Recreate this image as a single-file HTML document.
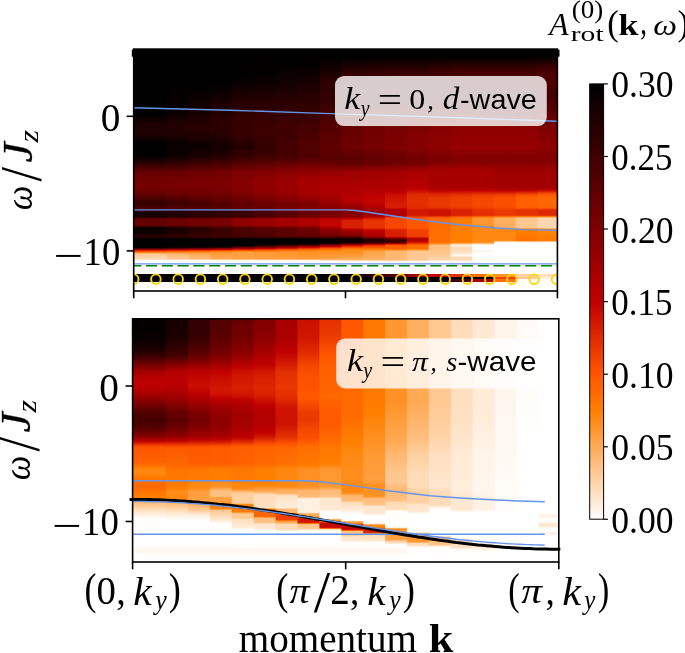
<!DOCTYPE html>
<html><head><meta charset="utf-8"><title>figure</title>
<style>html,body{margin:0;padding:0;background:#fff;}body{width:685px;height:653px;overflow:hidden;position:relative;}</style>
</head><body>
<svg width="685" height="653" viewBox="0 0 685 653" style="position:absolute;left:0;top:0">
<defs>
<clipPath id="ct"><rect x="133.7" y="49.1" width="423.7" height="241.9"/></clipPath>
<clipPath id="cb"><rect x="132.6" y="318.8" width="426.2" height="243.2"/></clipPath>
<linearGradient id="cbar" x1="0" y1="0" x2="0" y2="1"><stop offset="0.0000" stop-color="#000000"/><stop offset="0.0167" stop-color="#060000"/><stop offset="0.0333" stop-color="#0d0000"/><stop offset="0.0500" stop-color="#130000"/><stop offset="0.0667" stop-color="#1a0000"/><stop offset="0.0833" stop-color="#200000"/><stop offset="0.1000" stop-color="#260000"/><stop offset="0.1167" stop-color="#2d0000"/><stop offset="0.1333" stop-color="#330000"/><stop offset="0.1500" stop-color="#390000"/><stop offset="0.1667" stop-color="#400000"/><stop offset="0.1833" stop-color="#460000"/><stop offset="0.2000" stop-color="#4c0000"/><stop offset="0.2167" stop-color="#530000"/><stop offset="0.2333" stop-color="#590000"/><stop offset="0.2500" stop-color="#600000"/><stop offset="0.2667" stop-color="#660000"/><stop offset="0.2833" stop-color="#6c0000"/><stop offset="0.3000" stop-color="#730000"/><stop offset="0.3167" stop-color="#790000"/><stop offset="0.3333" stop-color="#7f0000"/><stop offset="0.3500" stop-color="#860000"/><stop offset="0.3667" stop-color="#8c0000"/><stop offset="0.3833" stop-color="#930000"/><stop offset="0.4000" stop-color="#990000"/><stop offset="0.4167" stop-color="#9f0000"/><stop offset="0.4333" stop-color="#a60000"/><stop offset="0.4500" stop-color="#ac0000"/><stop offset="0.4667" stop-color="#b20000"/><stop offset="0.4833" stop-color="#b90000"/><stop offset="0.5000" stop-color="#bf0000"/><stop offset="0.5167" stop-color="#c60800"/><stop offset="0.5333" stop-color="#cc1100"/><stop offset="0.5500" stop-color="#d21a00"/><stop offset="0.5667" stop-color="#d92200"/><stop offset="0.5833" stop-color="#df2b00"/><stop offset="0.6000" stop-color="#e53300"/><stop offset="0.6167" stop-color="#ec3c00"/><stop offset="0.6333" stop-color="#f24400"/><stop offset="0.6500" stop-color="#f94d00"/><stop offset="0.6667" stop-color="#ff5500"/><stop offset="0.6833" stop-color="#ff5e00"/><stop offset="0.7000" stop-color="#ff6600"/><stop offset="0.7167" stop-color="#ff6e00"/><stop offset="0.7333" stop-color="#ff7700"/><stop offset="0.7500" stop-color="#ff8000"/><stop offset="0.7667" stop-color="#ff8811"/><stop offset="0.7833" stop-color="#ff9022"/><stop offset="0.8000" stop-color="#ff9933"/><stop offset="0.8167" stop-color="#ffa244"/><stop offset="0.8333" stop-color="#ffaa55"/><stop offset="0.8500" stop-color="#ffb266"/><stop offset="0.8667" stop-color="#ffbb77"/><stop offset="0.8833" stop-color="#ffc388"/><stop offset="0.9000" stop-color="#ffcc99"/><stop offset="0.9167" stop-color="#ffd4aa"/><stop offset="0.9333" stop-color="#ffddbb"/><stop offset="0.9500" stop-color="#ffe5cc"/><stop offset="0.9667" stop-color="#ffeedd"/><stop offset="0.9833" stop-color="#fff6ee"/><stop offset="1.0000" stop-color="#ffffff"/></linearGradient>
<linearGradient id="t0" gradientUnits="userSpaceOnUse" x1="0" y1="49.10" x2="0" y2="291.00"><stop offset="0.0000" stop-color="#000000"/><stop offset="0.2613" stop-color="#000000"/><stop offset="0.2766" stop-color="#040000"/><stop offset="0.3055" stop-color="#1c0000"/><stop offset="0.3307" stop-color="#200000"/><stop offset="0.3539" stop-color="#1d0000"/><stop offset="0.3799" stop-color="#060000"/><stop offset="0.3902" stop-color="#010000"/><stop offset="0.4349" stop-color="#010000"/><stop offset="0.4461" stop-color="#070000"/><stop offset="0.4564" stop-color="#130000"/><stop offset="0.4928" stop-color="#4e0000"/><stop offset="0.5081" stop-color="#620000"/><stop offset="0.5242" stop-color="#6c0000"/><stop offset="0.5618" stop-color="#750000"/><stop offset="0.5837" stop-color="#6f0000"/><stop offset="0.5990" stop-color="#650000"/><stop offset="0.6350" stop-color="#330000"/><stop offset="0.6383" stop-color="#330000"/><stop offset="0.6527" stop-color="#470000"/><stop offset="0.6647" stop-color="#470000"/><stop offset="0.6672" stop-color="#400000"/><stop offset="0.6718" stop-color="#200000"/><stop offset="0.6763" stop-color="#180000"/><stop offset="0.6928" stop-color="#1a0000"/><stop offset="0.6953" stop-color="#260000"/><stop offset="0.6995" stop-color="#530000"/><stop offset="0.7011" stop-color="#5d0000"/><stop offset="0.7061" stop-color="#640000"/><stop offset="0.7177" stop-color="#680000"/><stop offset="0.7292" stop-color="#5f0000"/><stop offset="0.7313" stop-color="#530000"/><stop offset="0.7363" stop-color="#1a0000"/><stop offset="0.7391" stop-color="#0d0000"/><stop offset="0.7590" stop-color="#0c0000"/><stop offset="0.7623" stop-color="#120000"/><stop offset="0.7673" stop-color="#260000"/><stop offset="0.7755" stop-color="#280000"/><stop offset="0.7788" stop-color="#210000"/><stop offset="0.7821" stop-color="#0b0000"/><stop offset="0.7854" stop-color="#010000"/><stop offset="0.8169" stop-color="#000000"/><stop offset="0.8202" stop-color="#070000"/><stop offset="0.8218" stop-color="#160000"/><stop offset="0.8235" stop-color="#330000"/><stop offset="0.8272" stop-color="#860000"/><stop offset="0.8301" stop-color="#b80000"/><stop offset="0.8330" stop-color="#de2800"/><stop offset="0.8351" stop-color="#f14300"/><stop offset="0.8367" stop-color="#fe5400"/><stop offset="0.8384" stop-color="#ff6600"/><stop offset="0.8400" stop-color="#ff7a00"/><stop offset="0.8417" stop-color="#ff9021"/><stop offset="0.8433" stop-color="#ffa64e"/><stop offset="0.8454" stop-color="#ffbc7a"/><stop offset="0.8466" stop-color="#ffc489"/><stop offset="0.8483" stop-color="#ffc993"/><stop offset="0.8665" stop-color="#ffd9b3"/><stop offset="0.8681" stop-color="#ffdebd"/><stop offset="0.8739" stop-color="#fffaf5"/><stop offset="0.8764" stop-color="#fffefe"/><stop offset="0.8814" stop-color="#ffffff"/><stop offset="0.9285" stop-color="#ffffff"/><stop offset="0.9293" stop-color="#000000"/><stop offset="0.9632" stop-color="#000000"/><stop offset="0.9640" stop-color="#ffffff"/><stop offset="0.9988" stop-color="#ffffff"/></linearGradient>
<linearGradient id="t1" gradientUnits="userSpaceOnUse" x1="0" y1="49.10" x2="0" y2="291.00"><stop offset="0.0000" stop-color="#000000"/><stop offset="0.2613" stop-color="#000000"/><stop offset="0.2766" stop-color="#040000"/><stop offset="0.3055" stop-color="#1c0000"/><stop offset="0.3307" stop-color="#200000"/><stop offset="0.3539" stop-color="#1d0000"/><stop offset="0.3799" stop-color="#060000"/><stop offset="0.3902" stop-color="#010000"/><stop offset="0.4349" stop-color="#010000"/><stop offset="0.4461" stop-color="#070000"/><stop offset="0.4564" stop-color="#130000"/><stop offset="0.4928" stop-color="#4e0000"/><stop offset="0.5081" stop-color="#620000"/><stop offset="0.5242" stop-color="#6c0000"/><stop offset="0.5618" stop-color="#750000"/><stop offset="0.5837" stop-color="#6f0000"/><stop offset="0.5990" stop-color="#650000"/><stop offset="0.6350" stop-color="#330000"/><stop offset="0.6383" stop-color="#330000"/><stop offset="0.6527" stop-color="#470000"/><stop offset="0.6647" stop-color="#470000"/><stop offset="0.6672" stop-color="#400000"/><stop offset="0.6718" stop-color="#200000"/><stop offset="0.6763" stop-color="#180000"/><stop offset="0.6928" stop-color="#1a0000"/><stop offset="0.6953" stop-color="#260000"/><stop offset="0.6995" stop-color="#530000"/><stop offset="0.7011" stop-color="#5d0000"/><stop offset="0.7061" stop-color="#640000"/><stop offset="0.7177" stop-color="#680000"/><stop offset="0.7292" stop-color="#5f0000"/><stop offset="0.7313" stop-color="#530000"/><stop offset="0.7363" stop-color="#1a0000"/><stop offset="0.7391" stop-color="#0d0000"/><stop offset="0.7590" stop-color="#0c0000"/><stop offset="0.7623" stop-color="#120000"/><stop offset="0.7673" stop-color="#260000"/><stop offset="0.7755" stop-color="#280000"/><stop offset="0.7788" stop-color="#210000"/><stop offset="0.7821" stop-color="#0b0000"/><stop offset="0.7854" stop-color="#010000"/><stop offset="0.8169" stop-color="#000000"/><stop offset="0.8202" stop-color="#070000"/><stop offset="0.8218" stop-color="#160000"/><stop offset="0.8235" stop-color="#330000"/><stop offset="0.8272" stop-color="#860000"/><stop offset="0.8301" stop-color="#b80000"/><stop offset="0.8330" stop-color="#de2800"/><stop offset="0.8351" stop-color="#f14300"/><stop offset="0.8367" stop-color="#fe5400"/><stop offset="0.8384" stop-color="#ff6600"/><stop offset="0.8400" stop-color="#ff7a00"/><stop offset="0.8417" stop-color="#ff9021"/><stop offset="0.8433" stop-color="#ffa64e"/><stop offset="0.8454" stop-color="#ffbc7a"/><stop offset="0.8466" stop-color="#ffc489"/><stop offset="0.8483" stop-color="#ffc993"/><stop offset="0.8665" stop-color="#ffd9b3"/><stop offset="0.8681" stop-color="#ffdebd"/><stop offset="0.8739" stop-color="#fffaf5"/><stop offset="0.8764" stop-color="#fffefe"/><stop offset="0.8814" stop-color="#ffffff"/><stop offset="0.9285" stop-color="#ffffff"/><stop offset="0.9293" stop-color="#000000"/><stop offset="0.9632" stop-color="#000000"/><stop offset="0.9640" stop-color="#ffffff"/><stop offset="0.9988" stop-color="#ffffff"/></linearGradient>
<linearGradient id="t2" gradientUnits="userSpaceOnUse" x1="0" y1="49.10" x2="0" y2="291.00"><stop offset="0.0000" stop-color="#000000"/><stop offset="0.1439" stop-color="#000000"/><stop offset="0.2613" stop-color="#0c0000"/><stop offset="0.2766" stop-color="#100000"/><stop offset="0.3055" stop-color="#210000"/><stop offset="0.3258" stop-color="#240000"/><stop offset="0.3539" stop-color="#210000"/><stop offset="0.3902" stop-color="#080000"/><stop offset="0.4299" stop-color="#0a0000"/><stop offset="0.4514" stop-color="#170000"/><stop offset="0.5081" stop-color="#670000"/><stop offset="0.5275" stop-color="#710000"/><stop offset="0.5618" stop-color="#780000"/><stop offset="0.5837" stop-color="#730000"/><stop offset="0.5990" stop-color="#690000"/><stop offset="0.6350" stop-color="#3e0000"/><stop offset="0.6527" stop-color="#4c0000"/><stop offset="0.6598" stop-color="#4b0000"/><stop offset="0.6664" stop-color="#410000"/><stop offset="0.6718" stop-color="#260000"/><stop offset="0.6763" stop-color="#200000"/><stop offset="0.6928" stop-color="#220000"/><stop offset="0.6953" stop-color="#2d0000"/><stop offset="0.7003" stop-color="#5f0000"/><stop offset="0.7028" stop-color="#680000"/><stop offset="0.7148" stop-color="#6e0000"/><stop offset="0.7259" stop-color="#6a0000"/><stop offset="0.7292" stop-color="#670000"/><stop offset="0.7309" stop-color="#5f0000"/><stop offset="0.7363" stop-color="#290000"/><stop offset="0.7391" stop-color="#1c0000"/><stop offset="0.7582" stop-color="#1b0000"/><stop offset="0.7673" stop-color="#2f0000"/><stop offset="0.7755" stop-color="#300000"/><stop offset="0.7788" stop-color="#270000"/><stop offset="0.7830" stop-color="#090000"/><stop offset="0.7854" stop-color="#010000"/><stop offset="0.8152" stop-color="#010000"/><stop offset="0.8185" stop-color="#080000"/><stop offset="0.8202" stop-color="#150000"/><stop offset="0.8218" stop-color="#290000"/><stop offset="0.8272" stop-color="#940000"/><stop offset="0.8301" stop-color="#c30400"/><stop offset="0.8330" stop-color="#e63400"/><stop offset="0.8351" stop-color="#fa4f00"/><stop offset="0.8367" stop-color="#ff6100"/><stop offset="0.8396" stop-color="#ff7e00"/><stop offset="0.8433" stop-color="#ffa246"/><stop offset="0.8454" stop-color="#ffb164"/><stop offset="0.8466" stop-color="#ffb76e"/><stop offset="0.8499" stop-color="#ffbc79"/><stop offset="0.8632" stop-color="#ffc58b"/><stop offset="0.8665" stop-color="#ffca95"/><stop offset="0.8681" stop-color="#ffd1a3"/><stop offset="0.8739" stop-color="#fff8f1"/><stop offset="0.8764" stop-color="#fffefd"/><stop offset="0.8814" stop-color="#ffffff"/><stop offset="0.9285" stop-color="#ffffff"/><stop offset="0.9293" stop-color="#000000"/><stop offset="0.9632" stop-color="#000000"/><stop offset="0.9640" stop-color="#ffffff"/><stop offset="0.9988" stop-color="#ffffff"/></linearGradient>
<linearGradient id="t3" gradientUnits="userSpaceOnUse" x1="0" y1="49.10" x2="0" y2="291.00"><stop offset="0.0000" stop-color="#000000"/><stop offset="0.1484" stop-color="#010000"/><stop offset="0.2712" stop-color="#1a0000"/><stop offset="0.3208" stop-color="#280000"/><stop offset="0.3539" stop-color="#250000"/><stop offset="0.3952" stop-color="#0e0000"/><stop offset="0.4167" stop-color="#0f0000"/><stop offset="0.4465" stop-color="#1d0000"/><stop offset="0.5081" stop-color="#6b0000"/><stop offset="0.5275" stop-color="#750000"/><stop offset="0.5618" stop-color="#7b0000"/><stop offset="0.5990" stop-color="#6e0000"/><stop offset="0.6362" stop-color="#490000"/><stop offset="0.6569" stop-color="#510000"/><stop offset="0.6647" stop-color="#440000"/><stop offset="0.6718" stop-color="#2c0000"/><stop offset="0.6763" stop-color="#280000"/><stop offset="0.6928" stop-color="#2a0000"/><stop offset="0.6953" stop-color="#340000"/><stop offset="0.7003" stop-color="#660000"/><stop offset="0.7028" stop-color="#6f0000"/><stop offset="0.7148" stop-color="#730000"/><stop offset="0.7276" stop-color="#700000"/><stop offset="0.7313" stop-color="#660000"/><stop offset="0.7363" stop-color="#390000"/><stop offset="0.7391" stop-color="#2b0000"/><stop offset="0.7573" stop-color="#2a0000"/><stop offset="0.7673" stop-color="#370000"/><stop offset="0.7755" stop-color="#370000"/><stop offset="0.7788" stop-color="#2e0000"/><stop offset="0.7830" stop-color="#0a0000"/><stop offset="0.7854" stop-color="#010000"/><stop offset="0.8136" stop-color="#000000"/><stop offset="0.8169" stop-color="#050000"/><stop offset="0.8181" stop-color="#0c0000"/><stop offset="0.8202" stop-color="#230000"/><stop offset="0.8284" stop-color="#b60000"/><stop offset="0.8301" stop-color="#cd1200"/><stop offset="0.8330" stop-color="#ef4000"/><stop offset="0.8351" stop-color="#ff5b00"/><stop offset="0.8384" stop-color="#ff7e00"/><stop offset="0.8417" stop-color="#ff962d"/><stop offset="0.8454" stop-color="#ffa74e"/><stop offset="0.8483" stop-color="#ffac59"/><stop offset="0.8632" stop-color="#ffb56c"/><stop offset="0.8665" stop-color="#ffbb77"/><stop offset="0.8681" stop-color="#ffc488"/><stop offset="0.8731" stop-color="#fff0e1"/><stop offset="0.8747" stop-color="#fffaf4"/><stop offset="0.8764" stop-color="#fffefc"/><stop offset="0.8814" stop-color="#ffffff"/><stop offset="0.9285" stop-color="#ffffff"/><stop offset="0.9293" stop-color="#000000"/><stop offset="0.9632" stop-color="#000000"/><stop offset="0.9640" stop-color="#ffffff"/><stop offset="0.9988" stop-color="#ffffff"/></linearGradient>
<linearGradient id="t4" gradientUnits="userSpaceOnUse" x1="0" y1="49.10" x2="0" y2="291.00"><stop offset="0.0000" stop-color="#000000"/><stop offset="0.1439" stop-color="#010000"/><stop offset="0.2282" stop-color="#1d0000"/><stop offset="0.3109" stop-color="#2c0000"/><stop offset="0.3510" stop-color="#2a0000"/><stop offset="0.3902" stop-color="#170000"/><stop offset="0.4101" stop-color="#150000"/><stop offset="0.4316" stop-color="#1d0000"/><stop offset="0.4465" stop-color="#280000"/><stop offset="0.5081" stop-color="#700000"/><stop offset="0.5275" stop-color="#780000"/><stop offset="0.5618" stop-color="#7e0000"/><stop offset="0.5990" stop-color="#720000"/><stop offset="0.6362" stop-color="#550000"/><stop offset="0.6565" stop-color="#560000"/><stop offset="0.6697" stop-color="#350000"/><stop offset="0.6763" stop-color="#300000"/><stop offset="0.6928" stop-color="#320000"/><stop offset="0.6953" stop-color="#3c0000"/><stop offset="0.7003" stop-color="#6c0000"/><stop offset="0.7028" stop-color="#760000"/><stop offset="0.7276" stop-color="#780000"/><stop offset="0.7313" stop-color="#700000"/><stop offset="0.7375" stop-color="#400000"/><stop offset="0.7391" stop-color="#3b0000"/><stop offset="0.7557" stop-color="#380000"/><stop offset="0.7640" stop-color="#400000"/><stop offset="0.7755" stop-color="#3f0000"/><stop offset="0.7788" stop-color="#340000"/><stop offset="0.7830" stop-color="#0c0000"/><stop offset="0.7854" stop-color="#020000"/><stop offset="0.8136" stop-color="#000000"/><stop offset="0.8169" stop-color="#070000"/><stop offset="0.8181" stop-color="#120000"/><stop offset="0.8202" stop-color="#300000"/><stop offset="0.8247" stop-color="#890000"/><stop offset="0.8284" stop-color="#c20300"/><stop offset="0.8334" stop-color="#fd5200"/><stop offset="0.8351" stop-color="#ff6700"/><stop offset="0.8367" stop-color="#ff7b00"/><stop offset="0.8388" stop-color="#ff8e1d"/><stop offset="0.8400" stop-color="#ff942a"/><stop offset="0.8417" stop-color="#ff9932"/><stop offset="0.8648" stop-color="#ffa750"/><stop offset="0.8665" stop-color="#ffac59"/><stop offset="0.8677" stop-color="#ffb367"/><stop offset="0.8698" stop-color="#ffc78f"/><stop offset="0.8731" stop-color="#ffeddb"/><stop offset="0.8747" stop-color="#fff8f2"/><stop offset="0.8764" stop-color="#fffdfc"/><stop offset="0.8814" stop-color="#ffffff"/><stop offset="0.9285" stop-color="#ffffff"/><stop offset="0.9293" stop-color="#000000"/><stop offset="0.9632" stop-color="#000000"/><stop offset="0.9640" stop-color="#ffffff"/><stop offset="0.9988" stop-color="#ffffff"/></linearGradient>
<linearGradient id="t5" gradientUnits="userSpaceOnUse" x1="0" y1="49.10" x2="0" y2="291.00"><stop offset="0.0000" stop-color="#000000"/><stop offset="0.1195" stop-color="#020000"/><stop offset="0.2228" stop-color="#270000"/><stop offset="0.3055" stop-color="#370000"/><stop offset="0.3510" stop-color="#360000"/><stop offset="0.3985" stop-color="#250000"/><stop offset="0.4150" stop-color="#250000"/><stop offset="0.4465" stop-color="#370000"/><stop offset="0.5081" stop-color="#7c0000"/><stop offset="0.5523" stop-color="#860000"/><stop offset="0.5936" stop-color="#800000"/><stop offset="0.6362" stop-color="#610000"/><stop offset="0.6548" stop-color="#600000"/><stop offset="0.6581" stop-color="#5c0000"/><stop offset="0.6714" stop-color="#3a0000"/><stop offset="0.6912" stop-color="#380000"/><stop offset="0.6928" stop-color="#3a0000"/><stop offset="0.6953" stop-color="#460000"/><stop offset="0.6995" stop-color="#790000"/><stop offset="0.7011" stop-color="#880000"/><stop offset="0.7028" stop-color="#8e0000"/><stop offset="0.7077" stop-color="#900000"/><stop offset="0.7292" stop-color="#8e0000"/><stop offset="0.7325" stop-color="#7e0000"/><stop offset="0.7375" stop-color="#510000"/><stop offset="0.7408" stop-color="#490000"/><stop offset="0.7755" stop-color="#460000"/><stop offset="0.7780" stop-color="#3a0000"/><stop offset="0.7821" stop-color="#0e0000"/><stop offset="0.7854" stop-color="#010000"/><stop offset="0.8103" stop-color="#010000"/><stop offset="0.8119" stop-color="#030000"/><stop offset="0.8136" stop-color="#0b0000"/><stop offset="0.8152" stop-color="#1c0000"/><stop offset="0.8222" stop-color="#8b0000"/><stop offset="0.8251" stop-color="#b10000"/><stop offset="0.8268" stop-color="#c40700"/><stop offset="0.8317" stop-color="#f94d00"/><stop offset="0.8334" stop-color="#ff6100"/><stop offset="0.8351" stop-color="#ff7400"/><stop offset="0.8367" stop-color="#ff860d"/><stop offset="0.8388" stop-color="#ff972e"/><stop offset="0.8400" stop-color="#ff9c39"/><stop offset="0.8433" stop-color="#ffa041"/><stop offset="0.8632" stop-color="#ffa041"/><stop offset="0.8648" stop-color="#ffa143"/><stop offset="0.8665" stop-color="#ffa54c"/><stop offset="0.8681" stop-color="#ffb061"/><stop offset="0.8698" stop-color="#ffc285"/><stop offset="0.8731" stop-color="#ffebd7"/><stop offset="0.8747" stop-color="#fff8f0"/><stop offset="0.8764" stop-color="#fffdfb"/><stop offset="0.8814" stop-color="#ffffff"/><stop offset="0.9285" stop-color="#ffffff"/><stop offset="0.9293" stop-color="#000000"/><stop offset="0.9632" stop-color="#000000"/><stop offset="0.9640" stop-color="#ffffff"/><stop offset="0.9988" stop-color="#ffffff"/></linearGradient>
<linearGradient id="t6" gradientUnits="userSpaceOnUse" x1="0" y1="49.10" x2="0" y2="291.00"><stop offset="0.0000" stop-color="#000000"/><stop offset="0.1141" stop-color="#060000"/><stop offset="0.2228" stop-color="#290000"/><stop offset="0.3055" stop-color="#3a0000"/><stop offset="0.3510" stop-color="#3c0000"/><stop offset="0.4035" stop-color="#330000"/><stop offset="0.4200" stop-color="#340000"/><stop offset="0.4498" stop-color="#430000"/><stop offset="0.5081" stop-color="#820000"/><stop offset="0.5506" stop-color="#910000"/><stop offset="0.5771" stop-color="#900000"/><stop offset="0.5990" stop-color="#8a0000"/><stop offset="0.6362" stop-color="#6b0000"/><stop offset="0.6565" stop-color="#690000"/><stop offset="0.6730" stop-color="#4a0000"/><stop offset="0.6895" stop-color="#480000"/><stop offset="0.6941" stop-color="#4f0000"/><stop offset="0.6953" stop-color="#580000"/><stop offset="0.6995" stop-color="#860000"/><stop offset="0.7011" stop-color="#930000"/><stop offset="0.7028" stop-color="#990000"/><stop offset="0.7077" stop-color="#9b0000"/><stop offset="0.7292" stop-color="#990000"/><stop offset="0.7325" stop-color="#890000"/><stop offset="0.7375" stop-color="#5e0000"/><stop offset="0.7408" stop-color="#550000"/><stop offset="0.7755" stop-color="#4e0000"/><stop offset="0.7780" stop-color="#410000"/><stop offset="0.7821" stop-color="#0f0000"/><stop offset="0.7838" stop-color="#050000"/><stop offset="0.7871" stop-color="#000000"/><stop offset="0.8020" stop-color="#000000"/><stop offset="0.8069" stop-color="#080000"/><stop offset="0.8103" stop-color="#180000"/><stop offset="0.8136" stop-color="#300000"/><stop offset="0.8160" stop-color="#4e0000"/><stop offset="0.8218" stop-color="#a00000"/><stop offset="0.8243" stop-color="#be0000"/><stop offset="0.8305" stop-color="#fa4e00"/><stop offset="0.8317" stop-color="#ff5c00"/><stop offset="0.8351" stop-color="#ff7c00"/><stop offset="0.8384" stop-color="#ff9326"/><stop offset="0.8400" stop-color="#ff9832"/><stop offset="0.8433" stop-color="#ff9b38"/><stop offset="0.8648" stop-color="#ff9e3e"/><stop offset="0.8665" stop-color="#ffa346"/><stop offset="0.8677" stop-color="#ffaa55"/><stop offset="0.8698" stop-color="#ffc081"/><stop offset="0.8731" stop-color="#ffebd6"/><stop offset="0.8747" stop-color="#fff8f0"/><stop offset="0.8764" stop-color="#fffdfb"/><stop offset="0.8814" stop-color="#ffffff"/><stop offset="0.9285" stop-color="#ffffff"/><stop offset="0.9293" stop-color="#000000"/><stop offset="0.9632" stop-color="#000000"/><stop offset="0.9640" stop-color="#ffffff"/><stop offset="0.9988" stop-color="#ffffff"/></linearGradient>
<linearGradient id="t7" gradientUnits="userSpaceOnUse" x1="0" y1="49.10" x2="0" y2="291.00"><stop offset="0.0000" stop-color="#000000"/><stop offset="0.0529" stop-color="#000000"/><stop offset="0.0943" stop-color="#070000"/><stop offset="0.2228" stop-color="#2b0000"/><stop offset="0.3055" stop-color="#3d0000"/><stop offset="0.4365" stop-color="#450000"/><stop offset="0.4543" stop-color="#4e0000"/><stop offset="0.4874" stop-color="#760000"/><stop offset="0.5081" stop-color="#890000"/><stop offset="0.5308" stop-color="#960000"/><stop offset="0.5506" stop-color="#9c0000"/><stop offset="0.5990" stop-color="#970000"/><stop offset="0.6362" stop-color="#760000"/><stop offset="0.6569" stop-color="#740000"/><stop offset="0.6747" stop-color="#5a0000"/><stop offset="0.6895" stop-color="#580000"/><stop offset="0.6941" stop-color="#600000"/><stop offset="0.6962" stop-color="#710000"/><stop offset="0.6995" stop-color="#940000"/><stop offset="0.7011" stop-color="#9f0000"/><stop offset="0.7028" stop-color="#a40000"/><stop offset="0.7077" stop-color="#a50000"/><stop offset="0.7292" stop-color="#a40000"/><stop offset="0.7325" stop-color="#940000"/><stop offset="0.7375" stop-color="#6b0000"/><stop offset="0.7408" stop-color="#620000"/><stop offset="0.7755" stop-color="#560000"/><stop offset="0.7780" stop-color="#470000"/><stop offset="0.7821" stop-color="#110000"/><stop offset="0.7838" stop-color="#050000"/><stop offset="0.7871" stop-color="#000000"/><stop offset="0.8020" stop-color="#000000"/><stop offset="0.8057" stop-color="#080000"/><stop offset="0.8086" stop-color="#1f0000"/><stop offset="0.8136" stop-color="#540000"/><stop offset="0.8218" stop-color="#bc0000"/><stop offset="0.8222" stop-color="#c00100"/><stop offset="0.8268" stop-color="#ea3900"/><stop offset="0.8301" stop-color="#ff5b00"/><stop offset="0.8346" stop-color="#ff8103"/><stop offset="0.8367" stop-color="#ff8c1a"/><stop offset="0.8388" stop-color="#ff9327"/><stop offset="0.8417" stop-color="#ff962d"/><stop offset="0.8648" stop-color="#ff9b38"/><stop offset="0.8665" stop-color="#ffa041"/><stop offset="0.8677" stop-color="#ffa850"/><stop offset="0.8698" stop-color="#ffbe7e"/><stop offset="0.8731" stop-color="#ffead5"/><stop offset="0.8747" stop-color="#fff7f0"/><stop offset="0.8764" stop-color="#fffdfb"/><stop offset="0.8814" stop-color="#ffffff"/><stop offset="0.9285" stop-color="#ffffff"/><stop offset="0.9293" stop-color="#000000"/><stop offset="0.9632" stop-color="#000000"/><stop offset="0.9640" stop-color="#ffffff"/><stop offset="0.9988" stop-color="#ffffff"/></linearGradient>
<linearGradient id="t8" gradientUnits="userSpaceOnUse" x1="0" y1="49.10" x2="0" y2="291.00"><stop offset="0.0000" stop-color="#000000"/><stop offset="0.0612" stop-color="#020000"/><stop offset="0.1687" stop-color="#210000"/><stop offset="0.3010" stop-color="#3f0000"/><stop offset="0.3902" stop-color="#4f0000"/><stop offset="0.4448" stop-color="#510000"/><stop offset="0.4597" stop-color="#5b0000"/><stop offset="0.4874" stop-color="#7d0000"/><stop offset="0.5027" stop-color="#8b0000"/><stop offset="0.5308" stop-color="#a00000"/><stop offset="0.5506" stop-color="#a70000"/><stop offset="0.5990" stop-color="#a40000"/><stop offset="0.6362" stop-color="#810000"/><stop offset="0.6565" stop-color="#7f0000"/><stop offset="0.6776" stop-color="#690000"/><stop offset="0.6895" stop-color="#680000"/><stop offset="0.6941" stop-color="#710000"/><stop offset="0.6995" stop-color="#a10000"/><stop offset="0.7011" stop-color="#ab0000"/><stop offset="0.7077" stop-color="#b00000"/><stop offset="0.7292" stop-color="#ae0000"/><stop offset="0.7325" stop-color="#a00000"/><stop offset="0.7375" stop-color="#780000"/><stop offset="0.7408" stop-color="#6f0000"/><stop offset="0.7755" stop-color="#5e0000"/><stop offset="0.7780" stop-color="#4e0000"/><stop offset="0.7821" stop-color="#120000"/><stop offset="0.7838" stop-color="#060000"/><stop offset="0.7871" stop-color="#000000"/><stop offset="0.8020" stop-color="#000000"/><stop offset="0.8053" stop-color="#0a0000"/><stop offset="0.8069" stop-color="#190000"/><stop offset="0.8152" stop-color="#900000"/><stop offset="0.8185" stop-color="#b70000"/><stop offset="0.8202" stop-color="#c70b00"/><stop offset="0.8251" stop-color="#f24400"/><stop offset="0.8268" stop-color="#fd5300"/><stop offset="0.8284" stop-color="#ff6000"/><stop offset="0.8317" stop-color="#ff7900"/><stop offset="0.8334" stop-color="#ff8409"/><stop offset="0.8346" stop-color="#ff8a15"/><stop offset="0.8367" stop-color="#ff8f20"/><stop offset="0.8648" stop-color="#ff9932"/><stop offset="0.8665" stop-color="#ff9d3c"/><stop offset="0.8677" stop-color="#ffa54b"/><stop offset="0.8698" stop-color="#ffbd7a"/><stop offset="0.8731" stop-color="#ffe9d4"/><stop offset="0.8747" stop-color="#fff7ef"/><stop offset="0.8764" stop-color="#fffdfb"/><stop offset="0.8814" stop-color="#ffffff"/><stop offset="0.9285" stop-color="#ffffff"/><stop offset="0.9293" stop-color="#000000"/><stop offset="0.9632" stop-color="#000000"/><stop offset="0.9640" stop-color="#ffffff"/><stop offset="0.9988" stop-color="#ffffff"/></linearGradient>
<linearGradient id="t9" gradientUnits="userSpaceOnUse" x1="0" y1="49.10" x2="0" y2="291.00"><stop offset="0.0000" stop-color="#000000"/><stop offset="0.0480" stop-color="#050000"/><stop offset="0.1339" stop-color="#2c0000"/><stop offset="0.2104" stop-color="#340000"/><stop offset="0.3220" stop-color="#550000"/><stop offset="0.4018" stop-color="#5f0000"/><stop offset="0.4543" stop-color="#570000"/><stop offset="0.4709" stop-color="#640000"/><stop offset="0.5081" stop-color="#940000"/><stop offset="0.5275" stop-color="#a10000"/><stop offset="0.5506" stop-color="#a80000"/><stop offset="0.5936" stop-color="#ac0000"/><stop offset="0.6168" stop-color="#a50000"/><stop offset="0.6796" stop-color="#750000"/><stop offset="0.6928" stop-color="#7e0000"/><stop offset="0.6962" stop-color="#8f0000"/><stop offset="0.7003" stop-color="#ad0000"/><stop offset="0.7028" stop-color="#b80000"/><stop offset="0.7065" stop-color="#c10300"/><stop offset="0.7127" stop-color="#c40600"/><stop offset="0.7292" stop-color="#c30500"/><stop offset="0.7313" stop-color="#bf0000"/><stop offset="0.7375" stop-color="#a70000"/><stop offset="0.7478" stop-color="#8c0000"/><stop offset="0.7706" stop-color="#720000"/><stop offset="0.7755" stop-color="#5f0000"/><stop offset="0.7780" stop-color="#4a0000"/><stop offset="0.7821" stop-color="#180000"/><stop offset="0.7838" stop-color="#0d0000"/><stop offset="0.7871" stop-color="#080000"/><stop offset="0.7970" stop-color="#080000"/><stop offset="0.8003" stop-color="#0c0000"/><stop offset="0.8036" stop-color="#210000"/><stop offset="0.8057" stop-color="#3a0000"/><stop offset="0.8098" stop-color="#7a0000"/><stop offset="0.8119" stop-color="#950000"/><stop offset="0.8160" stop-color="#bf0000"/><stop offset="0.8218" stop-color="#ef4000"/><stop offset="0.8243" stop-color="#ff5800"/><stop offset="0.8264" stop-color="#ff6800"/><stop offset="0.8301" stop-color="#ff7b00"/><stop offset="0.8317" stop-color="#ff8205"/><stop offset="0.8351" stop-color="#ff8c1a"/><stop offset="0.8384" stop-color="#ff9021"/><stop offset="0.8615" stop-color="#ff9d3c"/><stop offset="0.8665" stop-color="#ffa448"/><stop offset="0.8677" stop-color="#ffa852"/><stop offset="0.8698" stop-color="#ffb76e"/><stop offset="0.8739" stop-color="#ffe4ca"/><stop offset="0.8760" stop-color="#fff6ed"/><stop offset="0.8780" stop-color="#fffdfc"/><stop offset="0.8814" stop-color="#ffffff"/><stop offset="0.9285" stop-color="#ffffff"/><stop offset="0.9293" stop-color="#000000"/><stop offset="0.9632" stop-color="#000000"/><stop offset="0.9640" stop-color="#ffffff"/><stop offset="0.9988" stop-color="#ffffff"/></linearGradient>
<linearGradient id="t10" gradientUnits="userSpaceOnUse" x1="0" y1="49.10" x2="0" y2="291.00"><stop offset="0.0000" stop-color="#000000"/><stop offset="0.0265" stop-color="#010000"/><stop offset="0.0430" stop-color="#070000"/><stop offset="0.1025" stop-color="#330000"/><stop offset="0.1273" stop-color="#3e0000"/><stop offset="0.1505" stop-color="#420000"/><stop offset="0.2104" stop-color="#3e0000"/><stop offset="0.3220" stop-color="#670000"/><stop offset="0.4068" stop-color="#6e0000"/><stop offset="0.4448" stop-color="#5b0000"/><stop offset="0.4613" stop-color="#5a0000"/><stop offset="0.4762" stop-color="#660000"/><stop offset="0.5027" stop-color="#920000"/><stop offset="0.5176" stop-color="#a00000"/><stop offset="0.6217" stop-color="#b70000"/><stop offset="0.6284" stop-color="#b60000"/><stop offset="0.6499" stop-color="#970000"/><stop offset="0.6780" stop-color="#820000"/><stop offset="0.6928" stop-color="#900000"/><stop offset="0.6962" stop-color="#9d0000"/><stop offset="0.7011" stop-color="#b80000"/><stop offset="0.7028" stop-color="#c20300"/><stop offset="0.7061" stop-color="#d11800"/><stop offset="0.7094" stop-color="#d71f00"/><stop offset="0.7127" stop-color="#d72000"/><stop offset="0.7358" stop-color="#d72000"/><stop offset="0.7396" stop-color="#d31a00"/><stop offset="0.7441" stop-color="#bd0000"/><stop offset="0.7478" stop-color="#ab0000"/><stop offset="0.7507" stop-color="#a40000"/><stop offset="0.7706" stop-color="#820000"/><stop offset="0.7739" stop-color="#6f0000"/><stop offset="0.7805" stop-color="#2c0000"/><stop offset="0.7838" stop-color="#150000"/><stop offset="0.7871" stop-color="#100000"/><stop offset="0.7970" stop-color="#100000"/><stop offset="0.8003" stop-color="#170000"/><stop offset="0.8016" stop-color="#210000"/><stop offset="0.8036" stop-color="#3f0000"/><stop offset="0.8086" stop-color="#a00000"/><stop offset="0.8103" stop-color="#b80000"/><stop offset="0.8136" stop-color="#d51d00"/><stop offset="0.8202" stop-color="#fd5200"/><stop offset="0.8218" stop-color="#ff6000"/><stop offset="0.8251" stop-color="#ff7a00"/><stop offset="0.8284" stop-color="#ff8811"/><stop offset="0.8512" stop-color="#ff9832"/><stop offset="0.8681" stop-color="#ffac59"/><stop offset="0.8698" stop-color="#ffb062"/><stop offset="0.8718" stop-color="#ffbe7d"/><stop offset="0.8747" stop-color="#ffe2c5"/><stop offset="0.8764" stop-color="#fff3e7"/><stop offset="0.8780" stop-color="#fffcf9"/><stop offset="0.8814" stop-color="#ffffff"/><stop offset="0.9285" stop-color="#ffffff"/><stop offset="0.9293" stop-color="#000000"/><stop offset="0.9632" stop-color="#000000"/><stop offset="0.9640" stop-color="#ffffff"/><stop offset="0.9988" stop-color="#ffffff"/></linearGradient>
<linearGradient id="t11" gradientUnits="userSpaceOnUse" x1="0" y1="49.10" x2="0" y2="291.00"><stop offset="0.0000" stop-color="#000000"/><stop offset="0.0380" stop-color="#050000"/><stop offset="0.0976" stop-color="#340000"/><stop offset="0.1174" stop-color="#3e0000"/><stop offset="0.1443" stop-color="#430000"/><stop offset="0.2150" stop-color="#3f0000"/><stop offset="0.3274" stop-color="#700000"/><stop offset="0.4068" stop-color="#760000"/><stop offset="0.4448" stop-color="#630000"/><stop offset="0.4613" stop-color="#620000"/><stop offset="0.4762" stop-color="#6d0000"/><stop offset="0.5027" stop-color="#970000"/><stop offset="0.5143" stop-color="#a20000"/><stop offset="0.5721" stop-color="#ae0000"/><stop offset="0.6069" stop-color="#bf0000"/><stop offset="0.6168" stop-color="#c20400"/><stop offset="0.6284" stop-color="#c40600"/><stop offset="0.6366" stop-color="#bf0000"/><stop offset="0.6532" stop-color="#b50000"/><stop offset="0.6664" stop-color="#9d0000"/><stop offset="0.6796" stop-color="#990000"/><stop offset="0.6879" stop-color="#a00000"/><stop offset="0.6945" stop-color="#bb0000"/><stop offset="0.6995" stop-color="#d11800"/><stop offset="0.7044" stop-color="#e02b00"/><stop offset="0.7110" stop-color="#e63400"/><stop offset="0.7375" stop-color="#e63300"/><stop offset="0.7408" stop-color="#df2a00"/><stop offset="0.7458" stop-color="#ca0e00"/><stop offset="0.7491" stop-color="#c00100"/><stop offset="0.7722" stop-color="#a90000"/><stop offset="0.7739" stop-color="#a30000"/><stop offset="0.7768" stop-color="#8f0000"/><stop offset="0.7830" stop-color="#460000"/><stop offset="0.7850" stop-color="#360000"/><stop offset="0.7888" stop-color="#2b0000"/><stop offset="0.7954" stop-color="#240000"/><stop offset="0.7974" stop-color="#280000"/><stop offset="0.8003" stop-color="#3f0000"/><stop offset="0.8036" stop-color="#6f0000"/><stop offset="0.8069" stop-color="#ac0000"/><stop offset="0.8086" stop-color="#c70a00"/><stop offset="0.8103" stop-color="#db2400"/><stop offset="0.8119" stop-color="#e73500"/><stop offset="0.8136" stop-color="#ee3e00"/><stop offset="0.8202" stop-color="#ff5900"/><stop offset="0.8284" stop-color="#ff8001"/><stop offset="0.8334" stop-color="#ff9a35"/><stop offset="0.8367" stop-color="#ffa246"/><stop offset="0.8549" stop-color="#ffaa55"/><stop offset="0.8665" stop-color="#ffb163"/><stop offset="0.8698" stop-color="#ffb56b"/><stop offset="0.8718" stop-color="#ffc080"/><stop offset="0.8760" stop-color="#ffebd7"/><stop offset="0.8780" stop-color="#fff9f3"/><stop offset="0.8814" stop-color="#ffffff"/><stop offset="0.9285" stop-color="#ffffff"/><stop offset="0.9293" stop-color="#280000"/><stop offset="0.9401" stop-color="#280000"/><stop offset="0.9409" stop-color="#000000"/><stop offset="0.9632" stop-color="#000000"/><stop offset="0.9640" stop-color="#ffffff"/><stop offset="0.9988" stop-color="#ffffff"/></linearGradient>
<linearGradient id="t12" gradientUnits="userSpaceOnUse" x1="0" y1="49.10" x2="0" y2="291.00"><stop offset="0.0000" stop-color="#000000"/><stop offset="0.0380" stop-color="#060000"/><stop offset="0.0926" stop-color="#340000"/><stop offset="0.1124" stop-color="#3f0000"/><stop offset="0.1443" stop-color="#430000"/><stop offset="0.2150" stop-color="#3f0000"/><stop offset="0.2662" stop-color="#560000"/><stop offset="0.3274" stop-color="#770000"/><stop offset="0.4068" stop-color="#7e0000"/><stop offset="0.4448" stop-color="#6b0000"/><stop offset="0.4613" stop-color="#6a0000"/><stop offset="0.4762" stop-color="#750000"/><stop offset="0.5027" stop-color="#9c0000"/><stop offset="0.5126" stop-color="#a50000"/><stop offset="0.5721" stop-color="#b00000"/><stop offset="0.5920" stop-color="#bf0000"/><stop offset="0.6036" stop-color="#c90d00"/><stop offset="0.6168" stop-color="#cf1500"/><stop offset="0.6515" stop-color="#d61f00"/><stop offset="0.6548" stop-color="#d41c00"/><stop offset="0.6614" stop-color="#be0000"/><stop offset="0.6664" stop-color="#b10000"/><stop offset="0.6846" stop-color="#b00000"/><stop offset="0.6879" stop-color="#b60000"/><stop offset="0.6895" stop-color="#be0000"/><stop offset="0.6974" stop-color="#ef4000"/><stop offset="0.6995" stop-color="#f44600"/><stop offset="0.7028" stop-color="#f54800"/><stop offset="0.7375" stop-color="#f54700"/><stop offset="0.7408" stop-color="#f04000"/><stop offset="0.7458" stop-color="#df2b00"/><stop offset="0.7491" stop-color="#d82200"/><stop offset="0.7739" stop-color="#d61e00"/><stop offset="0.7755" stop-color="#d21800"/><stop offset="0.7772" stop-color="#c60900"/><stop offset="0.7788" stop-color="#b30000"/><stop offset="0.7838" stop-color="#690000"/><stop offset="0.7854" stop-color="#580000"/><stop offset="0.7888" stop-color="#470000"/><stop offset="0.7954" stop-color="#390000"/><stop offset="0.7974" stop-color="#410000"/><stop offset="0.7987" stop-color="#4e0000"/><stop offset="0.8003" stop-color="#660000"/><stop offset="0.8053" stop-color="#bb0000"/><stop offset="0.8086" stop-color="#ed3d00"/><stop offset="0.8098" stop-color="#fa4e00"/><stop offset="0.8119" stop-color="#ff5c00"/><stop offset="0.8235" stop-color="#ff6100"/><stop offset="0.8264" stop-color="#ff6900"/><stop offset="0.8284" stop-color="#ff7800"/><stop offset="0.8301" stop-color="#ff8811"/><stop offset="0.8334" stop-color="#ffa74f"/><stop offset="0.8346" stop-color="#ffaf60"/><stop offset="0.8367" stop-color="#ffb66e"/><stop offset="0.8698" stop-color="#ffba75"/><stop offset="0.8718" stop-color="#ffc183"/><stop offset="0.8731" stop-color="#ffca95"/><stop offset="0.8764" stop-color="#ffe9d4"/><stop offset="0.8780" stop-color="#fff6ed"/><stop offset="0.8797" stop-color="#fffcf9"/><stop offset="0.8814" stop-color="#ffffff"/><stop offset="0.9285" stop-color="#ffffff"/><stop offset="0.9293" stop-color="#500000"/><stop offset="0.9401" stop-color="#500000"/><stop offset="0.9409" stop-color="#000000"/><stop offset="0.9632" stop-color="#000000"/><stop offset="0.9640" stop-color="#ffffff"/><stop offset="0.9988" stop-color="#ffffff"/></linearGradient>
<linearGradient id="t13" gradientUnits="userSpaceOnUse" x1="0" y1="49.10" x2="0" y2="291.00"><stop offset="0.0000" stop-color="#000000"/><stop offset="0.0380" stop-color="#060000"/><stop offset="0.1071" stop-color="#400000"/><stop offset="0.1323" stop-color="#440000"/><stop offset="0.2166" stop-color="#400000"/><stop offset="0.2679" stop-color="#570000"/><stop offset="0.3274" stop-color="#7f0000"/><stop offset="0.4068" stop-color="#860000"/><stop offset="0.4448" stop-color="#730000"/><stop offset="0.4613" stop-color="#720000"/><stop offset="0.4762" stop-color="#7d0000"/><stop offset="0.5027" stop-color="#a40000"/><stop offset="0.5126" stop-color="#ad0000"/><stop offset="0.5672" stop-color="#b70000"/><stop offset="0.5788" stop-color="#bf0000"/><stop offset="0.6002" stop-color="#dd2800"/><stop offset="0.6102" stop-color="#e22f00"/><stop offset="0.6532" stop-color="#e32f00"/><stop offset="0.6664" stop-color="#d21900"/><stop offset="0.6846" stop-color="#d11800"/><stop offset="0.6879" stop-color="#d51d00"/><stop offset="0.6962" stop-color="#f94d00"/><stop offset="0.6995" stop-color="#ff5700"/><stop offset="0.7375" stop-color="#ff5800"/><stop offset="0.7408" stop-color="#fe5300"/><stop offset="0.7491" stop-color="#f04100"/><stop offset="0.7739" stop-color="#ef3f00"/><stop offset="0.7768" stop-color="#e83600"/><stop offset="0.7821" stop-color="#bd0000"/><stop offset="0.7850" stop-color="#aa0000"/><stop offset="0.7871" stop-color="#a90000"/><stop offset="0.7937" stop-color="#bd0000"/><stop offset="0.7970" stop-color="#c80c00"/><stop offset="0.8016" stop-color="#da2400"/><stop offset="0.8069" stop-color="#fe5300"/><stop offset="0.8103" stop-color="#ff6a00"/><stop offset="0.8136" stop-color="#ff7000"/><stop offset="0.8235" stop-color="#ff7100"/><stop offset="0.8268" stop-color="#ff7b00"/><stop offset="0.8284" stop-color="#ff8810"/><stop offset="0.8334" stop-color="#ffb76f"/><stop offset="0.8346" stop-color="#ffbf80"/><stop offset="0.8367" stop-color="#ffc68e"/><stop offset="0.8698" stop-color="#ffc994"/><stop offset="0.8718" stop-color="#ffcf9f"/><stop offset="0.8731" stop-color="#ffd6ad"/><stop offset="0.8764" stop-color="#ffeedd"/><stop offset="0.8780" stop-color="#fff8f1"/><stop offset="0.8814" stop-color="#ffffff"/><stop offset="0.9285" stop-color="#ffffff"/><stop offset="0.9293" stop-color="#a00000"/><stop offset="0.9401" stop-color="#a00000"/><stop offset="0.9409" stop-color="#000000"/><stop offset="0.9632" stop-color="#000000"/><stop offset="0.9640" stop-color="#ffffff"/><stop offset="0.9988" stop-color="#ffffff"/></linearGradient>
<linearGradient id="t14" gradientUnits="userSpaceOnUse" x1="0" y1="49.10" x2="0" y2="291.00"><stop offset="0.0000" stop-color="#000000"/><stop offset="0.0232" stop-color="#010000"/><stop offset="0.0380" stop-color="#070000"/><stop offset="0.0860" stop-color="#360000"/><stop offset="0.1071" stop-color="#440000"/><stop offset="0.2166" stop-color="#400000"/><stop offset="0.2679" stop-color="#570000"/><stop offset="0.3158" stop-color="#800000"/><stop offset="0.3373" stop-color="#890000"/><stop offset="0.4117" stop-color="#8e0000"/><stop offset="0.4461" stop-color="#7b0000"/><stop offset="0.4597" stop-color="#7a0000"/><stop offset="0.4709" stop-color="#810000"/><stop offset="0.4977" stop-color="#a40000"/><stop offset="0.5672" stop-color="#a90000"/><stop offset="0.5771" stop-color="#af0000"/><stop offset="0.5854" stop-color="#bd0000"/><stop offset="0.6036" stop-color="#e12d00"/><stop offset="0.6168" stop-color="#e93800"/><stop offset="0.6532" stop-color="#e93700"/><stop offset="0.6565" stop-color="#e43100"/><stop offset="0.6631" stop-color="#d21900"/><stop offset="0.6664" stop-color="#cc1100"/><stop offset="0.6846" stop-color="#cc1000"/><stop offset="0.6879" stop-color="#d11700"/><stop offset="0.6895" stop-color="#d82200"/><stop offset="0.6945" stop-color="#f94d00"/><stop offset="0.6962" stop-color="#ff5900"/><stop offset="0.6978" stop-color="#ff6200"/><stop offset="0.7011" stop-color="#ff6800"/><stop offset="0.7970" stop-color="#ff7000"/><stop offset="0.8003" stop-color="#ff7300"/><stop offset="0.8020" stop-color="#ff7a00"/><stop offset="0.8036" stop-color="#ff860c"/><stop offset="0.8086" stop-color="#ffb162"/><stop offset="0.8098" stop-color="#ffb872"/><stop offset="0.8119" stop-color="#ffbf7f"/><stop offset="0.8499" stop-color="#ffc891"/><stop offset="0.8681" stop-color="#ffd5ac"/><stop offset="0.8718" stop-color="#ffdcba"/><stop offset="0.8780" stop-color="#fffaf5"/><stop offset="0.8814" stop-color="#ffffff"/><stop offset="0.9285" stop-color="#ffffff"/><stop offset="0.9293" stop-color="#c00100"/><stop offset="0.9401" stop-color="#c00100"/><stop offset="0.9409" stop-color="#000000"/><stop offset="0.9632" stop-color="#000000"/><stop offset="0.9640" stop-color="#ffffff"/><stop offset="0.9988" stop-color="#ffffff"/></linearGradient>
<linearGradient id="t15" gradientUnits="userSpaceOnUse" x1="0" y1="49.10" x2="0" y2="291.00"><stop offset="0.0000" stop-color="#000000"/><stop offset="0.0232" stop-color="#010000"/><stop offset="0.0364" stop-color="#070000"/><stop offset="0.0827" stop-color="#3b0000"/><stop offset="0.1071" stop-color="#4b0000"/><stop offset="0.1885" stop-color="#3f0000"/><stop offset="0.2150" stop-color="#3f0000"/><stop offset="0.2679" stop-color="#570000"/><stop offset="0.3125" stop-color="#840000"/><stop offset="0.3274" stop-color="#8e0000"/><stop offset="0.4068" stop-color="#960000"/><stop offset="0.4419" stop-color="#840000"/><stop offset="0.4597" stop-color="#820000"/><stop offset="0.4709" stop-color="#880000"/><stop offset="0.4977" stop-color="#a50000"/><stop offset="0.5672" stop-color="#a90000"/><stop offset="0.5771" stop-color="#b00000"/><stop offset="0.5854" stop-color="#bf0000"/><stop offset="0.5990" stop-color="#df2a00"/><stop offset="0.6036" stop-color="#e63400"/><stop offset="0.6168" stop-color="#ef4000"/><stop offset="0.6532" stop-color="#ef3f00"/><stop offset="0.6664" stop-color="#d82100"/><stop offset="0.6846" stop-color="#d82000"/><stop offset="0.6879" stop-color="#dd2700"/><stop offset="0.6928" stop-color="#fa4e00"/><stop offset="0.6945" stop-color="#ff5d00"/><stop offset="0.6974" stop-color="#ff7100"/><stop offset="0.7011" stop-color="#ff7900"/><stop offset="0.7292" stop-color="#ff8001"/><stop offset="0.7970" stop-color="#ff8001"/><stop offset="0.7987" stop-color="#ff8104"/><stop offset="0.8003" stop-color="#ff860d"/><stop offset="0.8016" stop-color="#ff8f1e"/><stop offset="0.8036" stop-color="#ffa851"/><stop offset="0.8053" stop-color="#ffc184"/><stop offset="0.8069" stop-color="#ffd8b1"/><stop offset="0.8078" stop-color="#ffe0c2"/><stop offset="0.8086" stop-color="#ffe6cd"/><stop offset="0.8103" stop-color="#ffebd6"/><stop offset="0.8119" stop-color="#ffead6"/><stop offset="0.8251" stop-color="#ffdab6"/><stop offset="0.8284" stop-color="#ffdab5"/><stop offset="0.8450" stop-color="#ffe7ce"/><stop offset="0.8532" stop-color="#fff7f0"/><stop offset="0.8553" stop-color="#fff5ec"/><stop offset="0.8594" stop-color="#ffdfc0"/><stop offset="0.8615" stop-color="#ffdab4"/><stop offset="0.8681" stop-color="#ffd8b1"/><stop offset="0.8718" stop-color="#ffddbb"/><stop offset="0.8780" stop-color="#fffaf5"/><stop offset="0.8814" stop-color="#ffffff"/><stop offset="0.9285" stop-color="#ffffff"/><stop offset="0.9293" stop-color="#e33000"/><stop offset="0.9401" stop-color="#e33000"/><stop offset="0.9409" stop-color="#000000"/><stop offset="0.9516" stop-color="#000000"/><stop offset="0.9525" stop-color="#400000"/><stop offset="0.9632" stop-color="#400000"/><stop offset="0.9640" stop-color="#ffffff"/><stop offset="0.9988" stop-color="#ffffff"/></linearGradient>
<linearGradient id="t16" gradientUnits="userSpaceOnUse" x1="0" y1="49.10" x2="0" y2="291.00"><stop offset="0.0000" stop-color="#000000"/><stop offset="0.0232" stop-color="#010000"/><stop offset="0.0364" stop-color="#070000"/><stop offset="0.0827" stop-color="#3b0000"/><stop offset="0.1071" stop-color="#4b0000"/><stop offset="0.1885" stop-color="#3f0000"/><stop offset="0.2150" stop-color="#3f0000"/><stop offset="0.2679" stop-color="#570000"/><stop offset="0.3125" stop-color="#840000"/><stop offset="0.3274" stop-color="#8e0000"/><stop offset="0.4068" stop-color="#960000"/><stop offset="0.4419" stop-color="#840000"/><stop offset="0.4597" stop-color="#820000"/><stop offset="0.4709" stop-color="#880000"/><stop offset="0.4977" stop-color="#a50000"/><stop offset="0.5672" stop-color="#a90000"/><stop offset="0.5771" stop-color="#b10000"/><stop offset="0.5837" stop-color="#bd0000"/><stop offset="0.5870" stop-color="#c50700"/><stop offset="0.5990" stop-color="#e43000"/><stop offset="0.6036" stop-color="#eb3b00"/><stop offset="0.6168" stop-color="#f54800"/><stop offset="0.6532" stop-color="#f54700"/><stop offset="0.6664" stop-color="#e43100"/><stop offset="0.6846" stop-color="#e43000"/><stop offset="0.6879" stop-color="#ea3900"/><stop offset="0.6912" stop-color="#ff5500"/><stop offset="0.6945" stop-color="#ff7800"/><stop offset="0.6962" stop-color="#ff870e"/><stop offset="0.6978" stop-color="#ff9123"/><stop offset="0.6995" stop-color="#ff962e"/><stop offset="0.7011" stop-color="#ff9830"/><stop offset="0.7243" stop-color="#ff9830"/><stop offset="0.7272" stop-color="#ff952b"/><stop offset="0.7313" stop-color="#ff8b17"/><stop offset="0.7342" stop-color="#ff8812"/><stop offset="0.7838" stop-color="#ff8811"/><stop offset="0.7970" stop-color="#ff8e1d"/><stop offset="0.7987" stop-color="#ff9021"/><stop offset="0.8003" stop-color="#ff952c"/><stop offset="0.8020" stop-color="#ffa346"/><stop offset="0.8036" stop-color="#ffb870"/><stop offset="0.8069" stop-color="#ffe8d1"/><stop offset="0.8086" stop-color="#fff7ee"/><stop offset="0.8103" stop-color="#fffdfb"/><stop offset="0.8152" stop-color="#ffffff"/><stop offset="0.8284" stop-color="#fffefe"/><stop offset="0.8351" stop-color="#fff4e9"/><stop offset="0.8367" stop-color="#fff5ea"/><stop offset="0.8429" stop-color="#fffefc"/><stop offset="0.8466" stop-color="#ffffff"/><stop offset="0.8615" stop-color="#fffefe"/><stop offset="0.8677" stop-color="#fff5eb"/><stop offset="0.8764" stop-color="#fffffe"/><stop offset="0.9285" stop-color="#ffffff"/><stop offset="0.9293" stop-color="#ff7000"/><stop offset="0.9401" stop-color="#ff7000"/><stop offset="0.9409" stop-color="#000000"/><stop offset="0.9516" stop-color="#000000"/><stop offset="0.9525" stop-color="#a00000"/><stop offset="0.9632" stop-color="#a00000"/><stop offset="0.9640" stop-color="#ffffff"/><stop offset="0.9988" stop-color="#ffffff"/></linearGradient>
<linearGradient id="t17" gradientUnits="userSpaceOnUse" x1="0" y1="49.10" x2="0" y2="291.00"><stop offset="0.0000" stop-color="#000000"/><stop offset="0.0232" stop-color="#010000"/><stop offset="0.0364" stop-color="#070000"/><stop offset="0.0827" stop-color="#3b0000"/><stop offset="0.1071" stop-color="#4b0000"/><stop offset="0.1885" stop-color="#3f0000"/><stop offset="0.2150" stop-color="#3f0000"/><stop offset="0.2679" stop-color="#570000"/><stop offset="0.3125" stop-color="#840000"/><stop offset="0.3274" stop-color="#8e0000"/><stop offset="0.4068" stop-color="#960000"/><stop offset="0.4419" stop-color="#840000"/><stop offset="0.4597" stop-color="#810000"/><stop offset="0.4709" stop-color="#860000"/><stop offset="0.4915" stop-color="#9a0000"/><stop offset="0.5010" stop-color="#9e0000"/><stop offset="0.5672" stop-color="#a20000"/><stop offset="0.5771" stop-color="#aa0000"/><stop offset="0.5854" stop-color="#bd0000"/><stop offset="0.5990" stop-color="#e63400"/><stop offset="0.6036" stop-color="#ef4000"/><stop offset="0.6168" stop-color="#fb5000"/><stop offset="0.6532" stop-color="#fb4f00"/><stop offset="0.6664" stop-color="#ea3900"/><stop offset="0.6846" stop-color="#ea3900"/><stop offset="0.6879" stop-color="#f14200"/><stop offset="0.6895" stop-color="#fb5000"/><stop offset="0.6928" stop-color="#ff7700"/><stop offset="0.6945" stop-color="#ff8b16"/><stop offset="0.6962" stop-color="#ff9c39"/><stop offset="0.6974" stop-color="#ffa64d"/><stop offset="0.6995" stop-color="#ffae5d"/><stop offset="0.7011" stop-color="#ffb060"/><stop offset="0.7375" stop-color="#ffae5e"/><stop offset="0.7396" stop-color="#ffa852"/><stop offset="0.7437" stop-color="#ff9020"/><stop offset="0.7458" stop-color="#ff8a14"/><stop offset="0.7474" stop-color="#ff8812"/><stop offset="0.7888" stop-color="#ff8812"/><stop offset="0.7904" stop-color="#ff8a15"/><stop offset="0.7921" stop-color="#ff9225"/><stop offset="0.7933" stop-color="#ff9f3f"/><stop offset="0.7974" stop-color="#ffe8d1"/><stop offset="0.7987" stop-color="#fff5eb"/><stop offset="0.8003" stop-color="#fffdfb"/><stop offset="0.8036" stop-color="#ffffff"/><stop offset="0.9285" stop-color="#ffffff"/><stop offset="0.9293" stop-color="#ff9021"/><stop offset="0.9401" stop-color="#ff9021"/><stop offset="0.9409" stop-color="#ef4000"/><stop offset="0.9516" stop-color="#ef4000"/><stop offset="0.9525" stop-color="#ff7000"/><stop offset="0.9632" stop-color="#ff7000"/><stop offset="0.9640" stop-color="#ffffff"/><stop offset="0.9988" stop-color="#ffffff"/></linearGradient>
<linearGradient id="t18" gradientUnits="userSpaceOnUse" x1="0" y1="49.10" x2="0" y2="291.00"><stop offset="0.0000" stop-color="#000000"/><stop offset="0.0232" stop-color="#010000"/><stop offset="0.0364" stop-color="#070000"/><stop offset="0.0827" stop-color="#3b0000"/><stop offset="0.1071" stop-color="#4b0000"/><stop offset="0.1885" stop-color="#3f0000"/><stop offset="0.2150" stop-color="#3f0000"/><stop offset="0.2679" stop-color="#570000"/><stop offset="0.3125" stop-color="#840000"/><stop offset="0.3274" stop-color="#8e0000"/><stop offset="0.4068" stop-color="#960000"/><stop offset="0.4419" stop-color="#840000"/><stop offset="0.4597" stop-color="#810000"/><stop offset="0.4709" stop-color="#860000"/><stop offset="0.4915" stop-color="#9a0000"/><stop offset="0.5010" stop-color="#9e0000"/><stop offset="0.5672" stop-color="#a20000"/><stop offset="0.5771" stop-color="#ac0000"/><stop offset="0.5837" stop-color="#bc0000"/><stop offset="0.5870" stop-color="#c60900"/><stop offset="0.5990" stop-color="#f04000"/><stop offset="0.6036" stop-color="#fa4e00"/><stop offset="0.6069" stop-color="#ff5500"/><stop offset="0.6168" stop-color="#ff6000"/><stop offset="0.6532" stop-color="#ff5f00"/><stop offset="0.6565" stop-color="#ff5700"/><stop offset="0.6631" stop-color="#eb3a00"/><stop offset="0.6664" stop-color="#e43200"/><stop offset="0.6846" stop-color="#e43100"/><stop offset="0.6879" stop-color="#ed3d00"/><stop offset="0.6895" stop-color="#fa4e00"/><stop offset="0.6928" stop-color="#ff7f00"/><stop offset="0.6962" stop-color="#ffaf5e"/><stop offset="0.6978" stop-color="#ffbe7d"/><stop offset="0.6995" stop-color="#ffc58c"/><stop offset="0.7044" stop-color="#ffc891"/><stop offset="0.7342" stop-color="#ffc891"/><stop offset="0.7375" stop-color="#ffc58b"/><stop offset="0.7396" stop-color="#ffba75"/><stop offset="0.7437" stop-color="#ff8e1c"/><stop offset="0.7458" stop-color="#ff8205"/><stop offset="0.7474" stop-color="#ff7f00"/><stop offset="0.7888" stop-color="#ff7200"/><stop offset="0.7904" stop-color="#ff7400"/><stop offset="0.7921" stop-color="#ff7c00"/><stop offset="0.7933" stop-color="#ff8c18"/><stop offset="0.7974" stop-color="#ffe4c8"/><stop offset="0.7987" stop-color="#fff3e7"/><stop offset="0.8003" stop-color="#fffcfa"/><stop offset="0.8020" stop-color="#fffffe"/><stop offset="0.9285" stop-color="#ffffff"/><stop offset="0.9293" stop-color="#ffd0a1"/><stop offset="0.9401" stop-color="#ffd0a1"/><stop offset="0.9409" stop-color="#ffc891"/><stop offset="0.9516" stop-color="#ffc891"/><stop offset="0.9525" stop-color="#ffffff"/><stop offset="0.9988" stop-color="#ffffff"/></linearGradient>
<linearGradient id="t19" gradientUnits="userSpaceOnUse" x1="0" y1="49.10" x2="0" y2="291.00"><stop offset="0.0000" stop-color="#000000"/><stop offset="0.0327" stop-color="#060000"/><stop offset="0.0781" stop-color="#3d0000"/><stop offset="0.1071" stop-color="#4e0000"/><stop offset="0.1360" stop-color="#4f0000"/><stop offset="0.1951" stop-color="#430000"/><stop offset="0.2662" stop-color="#5e0000"/><stop offset="0.3324" stop-color="#810000"/><stop offset="0.4068" stop-color="#8e0000"/><stop offset="0.4465" stop-color="#810000"/><stop offset="0.4613" stop-color="#820000"/><stop offset="0.5010" stop-color="#9e0000"/><stop offset="0.5672" stop-color="#a20000"/><stop offset="0.5771" stop-color="#af0000"/><stop offset="0.5825" stop-color="#be0000"/><stop offset="0.5949" stop-color="#ef4000"/><stop offset="0.6002" stop-color="#fe5400"/><stop offset="0.6102" stop-color="#ff6500"/><stop offset="0.6168" stop-color="#ff6800"/><stop offset="0.6532" stop-color="#ff6600"/><stop offset="0.6581" stop-color="#fe5300"/><stop offset="0.6631" stop-color="#e83600"/><stop offset="0.6664" stop-color="#df2a00"/><stop offset="0.6813" stop-color="#dd2800"/><stop offset="0.6846" stop-color="#de2900"/><stop offset="0.6862" stop-color="#e12d00"/><stop offset="0.6879" stop-color="#e83700"/><stop offset="0.6895" stop-color="#f84b00"/><stop offset="0.6912" stop-color="#ff6600"/><stop offset="0.6928" stop-color="#ff8408"/><stop offset="0.6945" stop-color="#ffa143"/><stop offset="0.6962" stop-color="#ffbb76"/><stop offset="0.6978" stop-color="#ffcc99"/><stop offset="0.6995" stop-color="#ffd5ab"/><stop offset="0.7044" stop-color="#ffd8b1"/><stop offset="0.7342" stop-color="#ffd8b1"/><stop offset="0.7375" stop-color="#ffd5ab"/><stop offset="0.7396" stop-color="#ffc992"/><stop offset="0.7437" stop-color="#ff972f"/><stop offset="0.7458" stop-color="#ff8a16"/><stop offset="0.7474" stop-color="#ff8710"/><stop offset="0.7706" stop-color="#ff7f00"/><stop offset="0.7904" stop-color="#ff7b00"/><stop offset="0.7921" stop-color="#ff8408"/><stop offset="0.7933" stop-color="#ff9225"/><stop offset="0.7974" stop-color="#ffe5cb"/><stop offset="0.7987" stop-color="#fff4e9"/><stop offset="0.8003" stop-color="#fffdfa"/><stop offset="0.8020" stop-color="#fffffe"/><stop offset="0.9285" stop-color="#ffffff"/><stop offset="0.9293" stop-color="#ffe0c1"/><stop offset="0.9401" stop-color="#ffe0c1"/><stop offset="0.9409" stop-color="#fff0e1"/><stop offset="0.9516" stop-color="#fff0e1"/><stop offset="0.9525" stop-color="#ffffff"/><stop offset="0.9988" stop-color="#ffffff"/></linearGradient>
<linearGradient id="b0" gradientUnits="userSpaceOnUse" x1="0" y1="318.80" x2="0" y2="562.05"><stop offset="0.0000" stop-color="#010000"/><stop offset="0.0822" stop-color="#090000"/><stop offset="0.1299" stop-color="#1f0000"/><stop offset="0.1579" stop-color="#400000"/><stop offset="0.2138" stop-color="#9e0000"/><stop offset="0.2319" stop-color="#b10000"/><stop offset="0.2499" stop-color="#bb0000"/><stop offset="0.2730" stop-color="#bd0000"/><stop offset="0.2927" stop-color="#b50000"/><stop offset="0.3174" stop-color="#9e0000"/><stop offset="0.3782" stop-color="#580000"/><stop offset="0.4012" stop-color="#490000"/><stop offset="0.4201" stop-color="#450000"/><stop offset="0.4448" stop-color="#530000"/><stop offset="0.4670" stop-color="#6c0000"/><stop offset="0.4802" stop-color="#830000"/><stop offset="0.4818" stop-color="#820000"/><stop offset="0.5032" stop-color="#be0000"/><stop offset="0.5213" stop-color="#f24300"/><stop offset="0.5295" stop-color="#ff5600"/><stop offset="0.5887" stop-color="#ff6200"/><stop offset="0.6002" stop-color="#ff6c00"/><stop offset="0.6117" stop-color="#ff7e00"/><stop offset="0.6183" stop-color="#ff860d"/><stop offset="0.6232" stop-color="#ff8810"/><stop offset="0.6364" stop-color="#ff8710"/><stop offset="0.6462" stop-color="#ff7f00"/><stop offset="0.6775" stop-color="#ff6900"/><stop offset="0.6989" stop-color="#ff6c00"/><stop offset="0.7153" stop-color="#ff7900"/><stop offset="0.7383" stop-color="#ff8000"/><stop offset="0.7416" stop-color="#ff860c"/><stop offset="0.7515" stop-color="#ffb060"/><stop offset="0.7531" stop-color="#ffb56c"/><stop offset="0.7564" stop-color="#ffbc78"/><stop offset="0.7942" stop-color="#ffe8d0"/><stop offset="0.8222" stop-color="#fffefd"/><stop offset="0.9340" stop-color="#ffffff"/><stop offset="0.9455" stop-color="#fff8f2"/><stop offset="0.9554" stop-color="#fff8f1"/><stop offset="0.9607" stop-color="#fff9f3"/><stop offset="0.9686" stop-color="#fffffe"/><stop offset="0.9998" stop-color="#ffffff"/></linearGradient>
<linearGradient id="b1" gradientUnits="userSpaceOnUse" x1="0" y1="318.80" x2="0" y2="562.05"><stop offset="0.0000" stop-color="#010000"/><stop offset="0.0822" stop-color="#090000"/><stop offset="0.1299" stop-color="#1f0000"/><stop offset="0.1579" stop-color="#400000"/><stop offset="0.2138" stop-color="#9e0000"/><stop offset="0.2319" stop-color="#b10000"/><stop offset="0.2499" stop-color="#bb0000"/><stop offset="0.2730" stop-color="#bd0000"/><stop offset="0.2927" stop-color="#b50000"/><stop offset="0.3174" stop-color="#9e0000"/><stop offset="0.3782" stop-color="#580000"/><stop offset="0.4012" stop-color="#490000"/><stop offset="0.4201" stop-color="#450000"/><stop offset="0.4448" stop-color="#530000"/><stop offset="0.4670" stop-color="#6c0000"/><stop offset="0.4802" stop-color="#830000"/><stop offset="0.4818" stop-color="#820000"/><stop offset="0.5032" stop-color="#be0000"/><stop offset="0.5213" stop-color="#f24300"/><stop offset="0.5295" stop-color="#ff5600"/><stop offset="0.5887" stop-color="#ff6200"/><stop offset="0.6002" stop-color="#ff6c00"/><stop offset="0.6117" stop-color="#ff7e00"/><stop offset="0.6183" stop-color="#ff860d"/><stop offset="0.6232" stop-color="#ff8810"/><stop offset="0.6364" stop-color="#ff8710"/><stop offset="0.6462" stop-color="#ff7f00"/><stop offset="0.6775" stop-color="#ff6900"/><stop offset="0.6989" stop-color="#ff6c00"/><stop offset="0.7153" stop-color="#ff7900"/><stop offset="0.7383" stop-color="#ff8000"/><stop offset="0.7416" stop-color="#ff860c"/><stop offset="0.7515" stop-color="#ffb060"/><stop offset="0.7531" stop-color="#ffb56c"/><stop offset="0.7564" stop-color="#ffbc78"/><stop offset="0.7942" stop-color="#ffe8d0"/><stop offset="0.8222" stop-color="#fffefd"/><stop offset="0.9340" stop-color="#ffffff"/><stop offset="0.9455" stop-color="#fff8f2"/><stop offset="0.9554" stop-color="#fff8f1"/><stop offset="0.9607" stop-color="#fff9f3"/><stop offset="0.9686" stop-color="#fffffe"/><stop offset="0.9998" stop-color="#ffffff"/></linearGradient>
<linearGradient id="b2" gradientUnits="userSpaceOnUse" x1="0" y1="318.80" x2="0" y2="562.05"><stop offset="0.0000" stop-color="#180000"/><stop offset="0.0707" stop-color="#1b0000"/><stop offset="0.1414" stop-color="#3d0000"/><stop offset="0.1595" stop-color="#500000"/><stop offset="0.2055" stop-color="#a50000"/><stop offset="0.2187" stop-color="#b30000"/><stop offset="0.2319" stop-color="#b90000"/><stop offset="0.2639" stop-color="#bd0000"/><stop offset="0.2943" stop-color="#b20000"/><stop offset="0.3305" stop-color="#9a0000"/><stop offset="0.3815" stop-color="#680000"/><stop offset="0.4181" stop-color="#5c0000"/><stop offset="0.4423" stop-color="#660000"/><stop offset="0.4637" stop-color="#7a0000"/><stop offset="0.4830" stop-color="#920000"/><stop offset="0.5015" stop-color="#bd0000"/><stop offset="0.5229" stop-color="#f64800"/><stop offset="0.5311" stop-color="#ff5800"/><stop offset="0.5986" stop-color="#ff6800"/><stop offset="0.6282" stop-color="#ff7700"/><stop offset="0.6824" stop-color="#ff7800"/><stop offset="0.6939" stop-color="#ff7f00"/><stop offset="0.7120" stop-color="#ff8d1c"/><stop offset="0.7334" stop-color="#ff8811"/><stop offset="0.7433" stop-color="#ff8913"/><stop offset="0.7466" stop-color="#ff8f20"/><stop offset="0.7564" stop-color="#ffb468"/><stop offset="0.7597" stop-color="#ffbb76"/><stop offset="0.7984" stop-color="#ffe8d0"/><stop offset="0.8271" stop-color="#fffefe"/><stop offset="0.9340" stop-color="#ffffff"/><stop offset="0.9455" stop-color="#fff8f2"/><stop offset="0.9554" stop-color="#fff8f1"/><stop offset="0.9607" stop-color="#fff9f3"/><stop offset="0.9686" stop-color="#fffffe"/><stop offset="0.9998" stop-color="#ffffff"/></linearGradient>
<linearGradient id="b3" gradientUnits="userSpaceOnUse" x1="0" y1="318.80" x2="0" y2="562.05"><stop offset="0.0000" stop-color="#300000"/><stop offset="0.0707" stop-color="#330000"/><stop offset="0.1348" stop-color="#560000"/><stop offset="0.1644" stop-color="#700000"/><stop offset="0.2105" stop-color="#b40000"/><stop offset="0.2351" stop-color="#c20400"/><stop offset="0.2746" stop-color="#c90d00"/><stop offset="0.2976" stop-color="#c40600"/><stop offset="0.3075" stop-color="#bf0000"/><stop offset="0.3790" stop-color="#830000"/><stop offset="0.3996" stop-color="#780000"/><stop offset="0.4181" stop-color="#740000"/><stop offset="0.4374" stop-color="#7b0000"/><stop offset="0.4621" stop-color="#8d0000"/><stop offset="0.4830" stop-color="#a20000"/><stop offset="0.4983" stop-color="#be0000"/><stop offset="0.5213" stop-color="#f44600"/><stop offset="0.5262" stop-color="#fd5200"/><stop offset="0.5311" stop-color="#ff5700"/><stop offset="0.5953" stop-color="#ff5c00"/><stop offset="0.6183" stop-color="#ff7700"/><stop offset="0.6545" stop-color="#ff7900"/><stop offset="0.6660" stop-color="#ff7f00"/><stop offset="0.6775" stop-color="#ff870f"/><stop offset="0.6972" stop-color="#ff8b16"/><stop offset="0.7079" stop-color="#ff9b36"/><stop offset="0.7137" stop-color="#ff9f3f"/><stop offset="0.7564" stop-color="#ffa144"/><stop offset="0.7663" stop-color="#ffb870"/><stop offset="0.7860" stop-color="#ffc993"/><stop offset="0.8025" stop-color="#ffe7cf"/><stop offset="0.8271" stop-color="#fffefe"/><stop offset="0.9340" stop-color="#ffffff"/><stop offset="0.9455" stop-color="#fff8f2"/><stop offset="0.9554" stop-color="#fff8f1"/><stop offset="0.9607" stop-color="#fff9f3"/><stop offset="0.9686" stop-color="#fffffe"/><stop offset="0.9998" stop-color="#ffffff"/></linearGradient>
<linearGradient id="b4" gradientUnits="userSpaceOnUse" x1="0" y1="318.80" x2="0" y2="562.05"><stop offset="0.0000" stop-color="#510000"/><stop offset="0.0707" stop-color="#590000"/><stop offset="0.1398" stop-color="#740000"/><stop offset="0.1595" stop-color="#830000"/><stop offset="0.2072" stop-color="#b90000"/><stop offset="0.2154" stop-color="#bf0000"/><stop offset="0.2417" stop-color="#c90d00"/><stop offset="0.2845" stop-color="#d01700"/><stop offset="0.3075" stop-color="#ce1400"/><stop offset="0.3289" stop-color="#be0000"/><stop offset="0.3716" stop-color="#980000"/><stop offset="0.4127" stop-color="#8d0000"/><stop offset="0.4358" stop-color="#8f0000"/><stop offset="0.4555" stop-color="#960000"/><stop offset="0.4818" stop-color="#a90000"/><stop offset="0.4950" stop-color="#bd0000"/><stop offset="0.5065" stop-color="#d31b00"/><stop offset="0.5246" stop-color="#fc5200"/><stop offset="0.5311" stop-color="#ff5b00"/><stop offset="0.5953" stop-color="#ff5d00"/><stop offset="0.6010" stop-color="#ff6100"/><stop offset="0.6134" stop-color="#ff7700"/><stop offset="0.6183" stop-color="#ff7b00"/><stop offset="0.6594" stop-color="#ff7f00"/><stop offset="0.6750" stop-color="#ff8e1c"/><stop offset="0.6906" stop-color="#ff9327"/><stop offset="0.6956" stop-color="#ff9d3b"/><stop offset="0.7017" stop-color="#ffb367"/><stop offset="0.7071" stop-color="#ffbd7c"/><stop offset="0.7120" stop-color="#ffc081"/><stop offset="0.7252" stop-color="#ffc081"/><stop offset="0.7285" stop-color="#ffbf7f"/><stop offset="0.7301" stop-color="#ffbb77"/><stop offset="0.7346" stop-color="#ffa64d"/><stop offset="0.7367" stop-color="#ffa143"/><stop offset="0.7498" stop-color="#ffa041"/><stop offset="0.7531" stop-color="#ff9e3c"/><stop offset="0.7552" stop-color="#ff962d"/><stop offset="0.7581" stop-color="#ff860d"/><stop offset="0.7597" stop-color="#ff8204"/><stop offset="0.7762" stop-color="#ff8001"/><stop offset="0.7794" stop-color="#ff8205"/><stop offset="0.7811" stop-color="#ff8811"/><stop offset="0.7827" stop-color="#ff962d"/><stop offset="0.7860" stop-color="#ffbb77"/><stop offset="0.7877" stop-color="#ffc58b"/><stop offset="0.7893" stop-color="#ffca95"/><stop offset="0.8288" stop-color="#ffead5"/><stop offset="0.8403" stop-color="#fffefd"/><stop offset="0.9340" stop-color="#ffffff"/><stop offset="0.9455" stop-color="#fff8f2"/><stop offset="0.9554" stop-color="#fff8f1"/><stop offset="0.9607" stop-color="#fff9f3"/><stop offset="0.9686" stop-color="#fffffe"/><stop offset="0.9998" stop-color="#ffffff"/></linearGradient>
<linearGradient id="b5" gradientUnits="userSpaceOnUse" x1="0" y1="318.80" x2="0" y2="562.05"><stop offset="0.0000" stop-color="#690000"/><stop offset="0.0707" stop-color="#710000"/><stop offset="0.1332" stop-color="#890000"/><stop offset="0.1529" stop-color="#940000"/><stop offset="0.1957" stop-color="#be0000"/><stop offset="0.2187" stop-color="#cc1000"/><stop offset="0.2434" stop-color="#d21900"/><stop offset="0.2795" stop-color="#d61e00"/><stop offset="0.3042" stop-color="#d31a00"/><stop offset="0.3174" stop-color="#cc1100"/><stop offset="0.3338" stop-color="#be0000"/><stop offset="0.3626" stop-color="#aa0000"/><stop offset="0.4045" stop-color="#a20000"/><stop offset="0.4489" stop-color="#a90000"/><stop offset="0.4867" stop-color="#be0000"/><stop offset="0.4995" stop-color="#d21900"/><stop offset="0.5229" stop-color="#ff5500"/><stop offset="0.5295" stop-color="#ff5e00"/><stop offset="0.5953" stop-color="#ff6100"/><stop offset="0.6183" stop-color="#ff7700"/><stop offset="0.6594" stop-color="#ff7800"/><stop offset="0.6693" stop-color="#ff7e00"/><stop offset="0.6775" stop-color="#ff860d"/><stop offset="0.6923" stop-color="#ff8812"/><stop offset="0.6972" stop-color="#ff8c18"/><stop offset="0.7022" stop-color="#ff962d"/><stop offset="0.7141" stop-color="#ffc489"/><stop offset="0.7186" stop-color="#ffcd9b"/><stop offset="0.7252" stop-color="#ffd0a1"/><stop offset="0.7531" stop-color="#ffd0a1"/><stop offset="0.7564" stop-color="#ffce9d"/><stop offset="0.7581" stop-color="#ffc891"/><stop offset="0.7593" stop-color="#ffbe7c"/><stop offset="0.7626" stop-color="#ff9225"/><stop offset="0.7646" stop-color="#ff8308"/><stop offset="0.7663" stop-color="#ff8001"/><stop offset="0.7679" stop-color="#ff7f00"/><stop offset="0.7926" stop-color="#ff7b00"/><stop offset="0.7942" stop-color="#ff8204"/><stop offset="0.7955" stop-color="#ff8c1a"/><stop offset="0.7984" stop-color="#ffb469"/><stop offset="0.7992" stop-color="#ffbc78"/><stop offset="0.8008" stop-color="#ffc58b"/><stop offset="0.8025" stop-color="#ffc890"/><stop offset="0.8189" stop-color="#ffca94"/><stop offset="0.8210" stop-color="#ffd0a0"/><stop offset="0.8238" stop-color="#ffdcb9"/><stop offset="0.8255" stop-color="#ffe0c0"/><stop offset="0.8567" stop-color="#ffebd7"/><stop offset="0.8600" stop-color="#ffefe0"/><stop offset="0.8641" stop-color="#fffbf8"/><stop offset="0.8666" stop-color="#fffefe"/><stop offset="0.9357" stop-color="#ffffff"/><stop offset="0.9455" stop-color="#fff8f2"/><stop offset="0.9554" stop-color="#fff8f1"/><stop offset="0.9607" stop-color="#fff9f3"/><stop offset="0.9686" stop-color="#fffffe"/><stop offset="0.9998" stop-color="#ffffff"/></linearGradient>
<linearGradient id="b6" gradientUnits="userSpaceOnUse" x1="0" y1="318.80" x2="0" y2="562.05"><stop offset="0.0000" stop-color="#810000"/><stop offset="0.0707" stop-color="#8a0000"/><stop offset="0.1875" stop-color="#bf0000"/><stop offset="0.2203" stop-color="#d21900"/><stop offset="0.2532" stop-color="#d92300"/><stop offset="0.2845" stop-color="#dc2600"/><stop offset="0.3091" stop-color="#d92200"/><stop offset="0.3552" stop-color="#bf0000"/><stop offset="0.3979" stop-color="#b30000"/><stop offset="0.4292" stop-color="#b40000"/><stop offset="0.4604" stop-color="#bf0000"/><stop offset="0.4830" stop-color="#cd1200"/><stop offset="0.5180" stop-color="#fe5400"/><stop offset="0.5295" stop-color="#ff6300"/><stop offset="0.5953" stop-color="#ff6800"/><stop offset="0.6199" stop-color="#ff8000"/><stop offset="0.6775" stop-color="#ff8001"/><stop offset="0.6857" stop-color="#ff850b"/><stop offset="0.6956" stop-color="#ff9933"/><stop offset="0.7071" stop-color="#ffa348"/><stop offset="0.7120" stop-color="#ffb061"/><stop offset="0.7182" stop-color="#ffcc99"/><stop offset="0.7202" stop-color="#ffd2a6"/><stop offset="0.7252" stop-color="#ffdcba"/><stop offset="0.7729" stop-color="#ffe0c0"/><stop offset="0.7762" stop-color="#ffddbb"/><stop offset="0.7778" stop-color="#ffd3a7"/><stop offset="0.7790" stop-color="#ffc488"/><stop offset="0.7819" stop-color="#ff8c19"/><stop offset="0.7827" stop-color="#ff8102"/><stop offset="0.7844" stop-color="#ff7300"/><stop offset="0.7860" stop-color="#ff6f00"/><stop offset="0.8107" stop-color="#ff6300"/><stop offset="0.8123" stop-color="#ff6600"/><stop offset="0.8148" stop-color="#ff7b00"/><stop offset="0.8173" stop-color="#ffa54c"/><stop offset="0.8189" stop-color="#ffb76f"/><stop offset="0.8206" stop-color="#ffbe7e"/><stop offset="0.8370" stop-color="#ffc285"/><stop offset="0.8386" stop-color="#ffc890"/><stop offset="0.8415" stop-color="#ffdcb8"/><stop offset="0.8436" stop-color="#ffe5cb"/><stop offset="0.8469" stop-color="#ffe8d1"/><stop offset="0.8617" stop-color="#ffe9d2"/><stop offset="0.8641" stop-color="#ffecda"/><stop offset="0.8682" stop-color="#fffbf6"/><stop offset="0.8715" stop-color="#fffffe"/><stop offset="0.9357" stop-color="#ffffff"/><stop offset="0.9455" stop-color="#fff8f2"/><stop offset="0.9554" stop-color="#fff8f1"/><stop offset="0.9607" stop-color="#fff9f3"/><stop offset="0.9686" stop-color="#fffffe"/><stop offset="0.9998" stop-color="#ffffff"/></linearGradient>
<linearGradient id="b7" gradientUnits="userSpaceOnUse" x1="0" y1="318.80" x2="0" y2="562.05"><stop offset="0.0000" stop-color="#a80000"/><stop offset="0.0740" stop-color="#a90000"/><stop offset="0.1348" stop-color="#bf0000"/><stop offset="0.2203" stop-color="#e22f00"/><stop offset="0.2779" stop-color="#e83700"/><stop offset="0.3190" stop-color="#e33000"/><stop offset="0.3683" stop-color="#ce1300"/><stop offset="0.4259" stop-color="#cc1100"/><stop offset="0.4456" stop-color="#d21900"/><stop offset="0.4917" stop-color="#e83600"/><stop offset="0.5147" stop-color="#ff5500"/><stop offset="0.5295" stop-color="#ff6700"/><stop offset="0.5953" stop-color="#ff7000"/><stop offset="0.6084" stop-color="#ff7e00"/><stop offset="0.6183" stop-color="#ff8710"/><stop offset="0.6857" stop-color="#ff8812"/><stop offset="0.6906" stop-color="#ff8b17"/><stop offset="0.6923" stop-color="#ff8e1d"/><stop offset="0.6956" stop-color="#ff952b"/><stop offset="0.6997" stop-color="#ffa347"/><stop offset="0.7038" stop-color="#ffab58"/><stop offset="0.7137" stop-color="#ffb264"/><stop offset="0.7170" stop-color="#ffb66d"/><stop offset="0.7202" stop-color="#ffbe7d"/><stop offset="0.7235" stop-color="#ffcb97"/><stop offset="0.7264" stop-color="#ffddbc"/><stop offset="0.7285" stop-color="#ffe3c7"/><stop offset="0.7729" stop-color="#ffeddb"/><stop offset="0.7762" stop-color="#ffead6"/><stop offset="0.7778" stop-color="#ffe4c8"/><stop offset="0.7819" stop-color="#ffc286"/><stop offset="0.7844" stop-color="#ffba74"/><stop offset="0.7942" stop-color="#ffb870"/><stop offset="0.7959" stop-color="#ffb56a"/><stop offset="0.7975" stop-color="#ffaa56"/><stop offset="0.7984" stop-color="#ffa143"/><stop offset="0.7992" stop-color="#ff9428"/><stop offset="0.8008" stop-color="#ff7400"/><stop offset="0.8025" stop-color="#ff5700"/><stop offset="0.8041" stop-color="#f54700"/><stop offset="0.8074" stop-color="#ef4000"/><stop offset="0.8238" stop-color="#f04100"/><stop offset="0.8255" stop-color="#f44600"/><stop offset="0.8271" stop-color="#fe5400"/><stop offset="0.8288" stop-color="#ff6d00"/><stop offset="0.8304" stop-color="#ff8812"/><stop offset="0.8312" stop-color="#ff9429"/><stop offset="0.8321" stop-color="#ff9c39"/><stop offset="0.8337" stop-color="#ffa54b"/><stop offset="0.8370" stop-color="#ffa954"/><stop offset="0.8386" stop-color="#ffae5d"/><stop offset="0.8403" stop-color="#ffb871"/><stop offset="0.8436" stop-color="#ffd2a5"/><stop offset="0.8452" stop-color="#ffd9b3"/><stop offset="0.8485" stop-color="#ffdcb9"/><stop offset="0.8633" stop-color="#ffdcb9"/><stop offset="0.8666" stop-color="#ffdebd"/><stop offset="0.8682" stop-color="#ffe3c6"/><stop offset="0.8724" stop-color="#fff8f2"/><stop offset="0.8748" stop-color="#fffefd"/><stop offset="0.9357" stop-color="#ffffff"/><stop offset="0.9455" stop-color="#fff8f2"/><stop offset="0.9554" stop-color="#fff8f1"/><stop offset="0.9607" stop-color="#fff9f3"/><stop offset="0.9686" stop-color="#fffffe"/><stop offset="0.9998" stop-color="#ffffff"/></linearGradient>
<linearGradient id="b8" gradientUnits="userSpaceOnUse" x1="0" y1="318.80" x2="0" y2="562.05"><stop offset="0.0000" stop-color="#cb1000"/><stop offset="0.0740" stop-color="#cf1400"/><stop offset="0.1464" stop-color="#e22e00"/><stop offset="0.1957" stop-color="#f64800"/><stop offset="0.2351" stop-color="#fc5100"/><stop offset="0.3272" stop-color="#ff5600"/><stop offset="0.3831" stop-color="#ec3b00"/><stop offset="0.4177" stop-color="#ea3900"/><stop offset="0.4555" stop-color="#f54800"/><stop offset="0.4933" stop-color="#fc5100"/><stop offset="0.5295" stop-color="#ff7000"/><stop offset="0.5936" stop-color="#ff7700"/><stop offset="0.6035" stop-color="#ff7e00"/><stop offset="0.6134" stop-color="#ff8c1a"/><stop offset="0.6183" stop-color="#ff8f20"/><stop offset="0.6841" stop-color="#ff9021"/><stop offset="0.6906" stop-color="#ff9225"/><stop offset="0.6956" stop-color="#ff9933"/><stop offset="0.7038" stop-color="#ffaf5f"/><stop offset="0.7087" stop-color="#ffb66d"/><stop offset="0.7301" stop-color="#ffb973"/><stop offset="0.7318" stop-color="#ffbc7a"/><stop offset="0.7334" stop-color="#ffc488"/><stop offset="0.7367" stop-color="#ffdcb9"/><stop offset="0.7387" stop-color="#ffe9d2"/><stop offset="0.7416" stop-color="#ffefe0"/><stop offset="0.7449" stop-color="#fff0e1"/><stop offset="0.7942" stop-color="#fff0e0"/><stop offset="0.7959" stop-color="#ffecda"/><stop offset="0.7975" stop-color="#ffe2c5"/><stop offset="0.7984" stop-color="#ffdab4"/><stop offset="0.8004" stop-color="#ffbe7e"/><stop offset="0.8025" stop-color="#ffad5b"/><stop offset="0.8041" stop-color="#ffa953"/><stop offset="0.8123" stop-color="#ffa750"/><stop offset="0.8140" stop-color="#ffa347"/><stop offset="0.8156" stop-color="#ff9327"/><stop offset="0.8169" stop-color="#ff7b00"/><stop offset="0.8189" stop-color="#f34500"/><stop offset="0.8206" stop-color="#dd2700"/><stop offset="0.8222" stop-color="#d41b00"/><stop offset="0.8238" stop-color="#d11800"/><stop offset="0.8354" stop-color="#d21900"/><stop offset="0.8370" stop-color="#d51d00"/><stop offset="0.8386" stop-color="#e02c00"/><stop offset="0.8395" stop-color="#ea3a00"/><stop offset="0.8403" stop-color="#f94d00"/><stop offset="0.8419" stop-color="#ff7c00"/><stop offset="0.8436" stop-color="#ffa64e"/><stop offset="0.8452" stop-color="#ffbd7c"/><stop offset="0.8469" stop-color="#ffc68d"/><stop offset="0.8617" stop-color="#ffca94"/><stop offset="0.8641" stop-color="#ffd3a6"/><stop offset="0.8682" stop-color="#fff4ea"/><stop offset="0.8699" stop-color="#fffcf8"/><stop offset="0.8715" stop-color="#fffefe"/><stop offset="0.9357" stop-color="#ffffff"/><stop offset="0.9455" stop-color="#fff8f2"/><stop offset="0.9554" stop-color="#fff8f1"/><stop offset="0.9607" stop-color="#fff9f3"/><stop offset="0.9686" stop-color="#fffffe"/><stop offset="0.9998" stop-color="#ffffff"/></linearGradient>
<linearGradient id="b9" gradientUnits="userSpaceOnUse" x1="0" y1="318.80" x2="0" y2="562.05"><stop offset="0.0000" stop-color="#e43100"/><stop offset="0.0625" stop-color="#ea3900"/><stop offset="0.1447" stop-color="#ff5500"/><stop offset="0.1899" stop-color="#ff5f00"/><stop offset="0.3207" stop-color="#ff6700"/><stop offset="0.3716" stop-color="#ff5c00"/><stop offset="0.4243" stop-color="#ff5900"/><stop offset="0.4983" stop-color="#ff6b00"/><stop offset="0.5295" stop-color="#ff7800"/><stop offset="0.5936" stop-color="#ff7f00"/><stop offset="0.6010" stop-color="#ff8408"/><stop offset="0.6134" stop-color="#ff942a"/><stop offset="0.6183" stop-color="#ff9730"/><stop offset="0.6841" stop-color="#ff9831"/><stop offset="0.6906" stop-color="#ff9a35"/><stop offset="0.6956" stop-color="#ffa143"/><stop offset="0.7038" stop-color="#ffb76f"/><stop offset="0.7087" stop-color="#ffbe7d"/><stop offset="0.7301" stop-color="#ffc183"/><stop offset="0.7326" stop-color="#ffc890"/><stop offset="0.7367" stop-color="#ffe0c2"/><stop offset="0.7383" stop-color="#ffe6cc"/><stop offset="0.7400" stop-color="#ffe8d0"/><stop offset="0.7827" stop-color="#ffe8d2"/><stop offset="0.7860" stop-color="#ffecda"/><stop offset="0.7910" stop-color="#fffcfa"/><stop offset="0.7975" stop-color="#ffffff"/><stop offset="0.8173" stop-color="#ffffff"/><stop offset="0.8189" stop-color="#fffefe"/><stop offset="0.8206" stop-color="#fff9f3"/><stop offset="0.8222" stop-color="#ffead4"/><stop offset="0.8230" stop-color="#ffdcba"/><stop offset="0.8251" stop-color="#ffb366"/><stop offset="0.8271" stop-color="#ff9831"/><stop offset="0.8288" stop-color="#ff9224"/><stop offset="0.8321" stop-color="#ff8d1b"/><stop offset="0.8337" stop-color="#ff8104"/><stop offset="0.8354" stop-color="#ff6600"/><stop offset="0.8374" stop-color="#e53200"/><stop offset="0.8386" stop-color="#d41c00"/><stop offset="0.8403" stop-color="#c90d00"/><stop offset="0.8419" stop-color="#c60900"/><stop offset="0.8567" stop-color="#c70a00"/><stop offset="0.8584" stop-color="#cf1500"/><stop offset="0.8600" stop-color="#e43100"/><stop offset="0.8617" stop-color="#ff6600"/><stop offset="0.8633" stop-color="#ffa041"/><stop offset="0.8641" stop-color="#ffba74"/><stop offset="0.8650" stop-color="#ffcc9a"/><stop offset="0.8666" stop-color="#ffe4c8"/><stop offset="0.8682" stop-color="#ffefdf"/><stop offset="0.8699" stop-color="#fff5eb"/><stop offset="0.8732" stop-color="#fffdfb"/><stop offset="0.8781" stop-color="#ffffff"/><stop offset="0.9340" stop-color="#ffffff"/><stop offset="0.9455" stop-color="#fff8f2"/><stop offset="0.9554" stop-color="#fff8f1"/><stop offset="0.9607" stop-color="#fff9f3"/><stop offset="0.9686" stop-color="#fffffe"/><stop offset="0.9998" stop-color="#ffffff"/></linearGradient>
<linearGradient id="b10" gradientUnits="userSpaceOnUse" x1="0" y1="318.80" x2="0" y2="562.05"><stop offset="0.0000" stop-color="#ff5800"/><stop offset="0.0740" stop-color="#ff5900"/><stop offset="0.1316" stop-color="#ff6800"/><stop offset="0.3955" stop-color="#ff6a00"/><stop offset="0.4983" stop-color="#ff7f00"/><stop offset="0.5509" stop-color="#ff8811"/><stop offset="0.6594" stop-color="#ff8f20"/><stop offset="0.6808" stop-color="#ff8812"/><stop offset="0.7104" stop-color="#ff8812"/><stop offset="0.7153" stop-color="#ff8c18"/><stop offset="0.7202" stop-color="#ff9831"/><stop offset="0.7235" stop-color="#ffa54a"/><stop offset="0.7244" stop-color="#ffaf5f"/><stop offset="0.7268" stop-color="#ffb76e"/><stop offset="0.7466" stop-color="#ffb973"/><stop offset="0.7490" stop-color="#ffbf7f"/><stop offset="0.7531" stop-color="#ffd6ac"/><stop offset="0.7564" stop-color="#ffddbb"/><stop offset="0.7910" stop-color="#ffefde"/><stop offset="0.7942" stop-color="#fff2e6"/><stop offset="0.7992" stop-color="#fffdfc"/><stop offset="0.8058" stop-color="#ffffff"/><stop offset="0.8271" stop-color="#fffefe"/><stop offset="0.8288" stop-color="#fffaf4"/><stop offset="0.8304" stop-color="#ffebd7"/><stop offset="0.8312" stop-color="#ffdfbf"/><stop offset="0.8333" stop-color="#ffb871"/><stop offset="0.8354" stop-color="#ff9f40"/><stop offset="0.8370" stop-color="#ff9934"/><stop offset="0.8403" stop-color="#ff952b"/><stop offset="0.8419" stop-color="#ff8912"/><stop offset="0.8436" stop-color="#ff6b00"/><stop offset="0.8456" stop-color="#e73500"/><stop offset="0.8469" stop-color="#d51d00"/><stop offset="0.8485" stop-color="#c90d00"/><stop offset="0.8518" stop-color="#c50800"/><stop offset="0.8633" stop-color="#c50800"/><stop offset="0.8650" stop-color="#c70a00"/><stop offset="0.8666" stop-color="#ce1400"/><stop offset="0.8682" stop-color="#e12d00"/><stop offset="0.8699" stop-color="#ff5b00"/><stop offset="0.8715" stop-color="#ff8e1c"/><stop offset="0.8724" stop-color="#ffa348"/><stop offset="0.8732" stop-color="#ffb265"/><stop offset="0.8748" stop-color="#ffc386"/><stop offset="0.8765" stop-color="#ffc790"/><stop offset="0.8880" stop-color="#ffca95"/><stop offset="0.8896" stop-color="#ffcd9b"/><stop offset="0.8970" stop-color="#ffe5cb"/><stop offset="0.8995" stop-color="#ffe8d0"/><stop offset="0.9110" stop-color="#ffe9d2"/><stop offset="0.9135" stop-color="#ffecda"/><stop offset="0.9176" stop-color="#fffbf6"/><stop offset="0.9209" stop-color="#fffffe"/><stop offset="0.9357" stop-color="#ffffff"/><stop offset="0.9455" stop-color="#fff8f2"/><stop offset="0.9554" stop-color="#fff8f1"/><stop offset="0.9607" stop-color="#fff9f3"/><stop offset="0.9686" stop-color="#fffffe"/><stop offset="0.9998" stop-color="#ffffff"/></linearGradient>
<linearGradient id="b11" gradientUnits="userSpaceOnUse" x1="0" y1="318.80" x2="0" y2="562.05"><stop offset="0.0000" stop-color="#ff7800"/><stop offset="0.3207" stop-color="#ff7800"/><stop offset="0.3831" stop-color="#ff7f00"/><stop offset="0.5476" stop-color="#ff9831"/><stop offset="0.6594" stop-color="#ff9f40"/><stop offset="0.6668" stop-color="#ff9e3d"/><stop offset="0.6857" stop-color="#ff9123"/><stop offset="0.7285" stop-color="#ff9021"/><stop offset="0.7318" stop-color="#ff952c"/><stop offset="0.7334" stop-color="#ff9f3e"/><stop offset="0.7367" stop-color="#ffb76f"/><stop offset="0.7383" stop-color="#ffbd7b"/><stop offset="0.7400" stop-color="#ffbf80"/><stop offset="0.7630" stop-color="#ffc183"/><stop offset="0.7655" stop-color="#ffc890"/><stop offset="0.7696" stop-color="#ffe0c2"/><stop offset="0.7712" stop-color="#ffe6cc"/><stop offset="0.7745" stop-color="#ffe8d1"/><stop offset="0.7992" stop-color="#ffe8d2"/><stop offset="0.8025" stop-color="#ffecda"/><stop offset="0.8074" stop-color="#fffcfa"/><stop offset="0.8140" stop-color="#ffffff"/><stop offset="0.8370" stop-color="#ffffff"/><stop offset="0.8403" stop-color="#fffdfa"/><stop offset="0.8419" stop-color="#fff2e5"/><stop offset="0.8436" stop-color="#ffdab5"/><stop offset="0.8456" stop-color="#ffad5b"/><stop offset="0.8469" stop-color="#ff9933"/><stop offset="0.8485" stop-color="#ff8c19"/><stop offset="0.8502" stop-color="#ff8912"/><stop offset="0.8551" stop-color="#ff8811"/><stop offset="0.8567" stop-color="#ff860d"/><stop offset="0.8584" stop-color="#ff7d00"/><stop offset="0.8600" stop-color="#ff6800"/><stop offset="0.8621" stop-color="#f04000"/><stop offset="0.8633" stop-color="#e32f00"/><stop offset="0.8650" stop-color="#da2400"/><stop offset="0.8666" stop-color="#d82000"/><stop offset="0.8765" stop-color="#d82100"/><stop offset="0.8781" stop-color="#db2500"/><stop offset="0.8798" stop-color="#e73500"/><stop offset="0.8806" stop-color="#f24300"/><stop offset="0.8814" stop-color="#ff5800"/><stop offset="0.8830" stop-color="#ff8912"/><stop offset="0.8847" stop-color="#ffb56c"/><stop offset="0.8863" stop-color="#ffce9d"/><stop offset="0.8880" stop-color="#ffd8b1"/><stop offset="0.8913" stop-color="#ffdcb8"/><stop offset="0.9110" stop-color="#ffe7cf"/><stop offset="0.9135" stop-color="#ffecd9"/><stop offset="0.9176" stop-color="#fffbf6"/><stop offset="0.9192" stop-color="#fffefc"/><stop offset="0.9357" stop-color="#ffffff"/><stop offset="0.9455" stop-color="#fff8f2"/><stop offset="0.9554" stop-color="#fff8f1"/><stop offset="0.9607" stop-color="#fff9f3"/><stop offset="0.9686" stop-color="#fffffe"/><stop offset="0.9998" stop-color="#ffffff"/></linearGradient>
<linearGradient id="b12" gradientUnits="userSpaceOnUse" x1="0" y1="318.80" x2="0" y2="562.05"><stop offset="0.0000" stop-color="#ff9831"/><stop offset="0.3338" stop-color="#ff9123"/><stop offset="0.4950" stop-color="#ffa850"/><stop offset="0.5624" stop-color="#ffb872"/><stop offset="0.6421" stop-color="#ffc890"/><stop offset="0.6758" stop-color="#ffc790"/><stop offset="0.6956" stop-color="#ffba75"/><stop offset="0.7054" stop-color="#ffba74"/><stop offset="0.7466" stop-color="#ffc082"/><stop offset="0.7490" stop-color="#ffc48a"/><stop offset="0.7531" stop-color="#ffd4a8"/><stop offset="0.7564" stop-color="#ffd9b2"/><stop offset="0.7811" stop-color="#ffdfbf"/><stop offset="0.7844" stop-color="#ffe1c4"/><stop offset="0.7860" stop-color="#ffe6cc"/><stop offset="0.7901" stop-color="#fff9f3"/><stop offset="0.7926" stop-color="#fffefd"/><stop offset="0.8518" stop-color="#ffffff"/><stop offset="0.8551" stop-color="#fffefe"/><stop offset="0.8567" stop-color="#fffaf5"/><stop offset="0.8584" stop-color="#ffecd9"/><stop offset="0.8592" stop-color="#ffe0c1"/><stop offset="0.8617" stop-color="#ffaf5f"/><stop offset="0.8633" stop-color="#ff9b36"/><stop offset="0.8650" stop-color="#ff9225"/><stop offset="0.8666" stop-color="#ff9021"/><stop offset="0.8798" stop-color="#ff9021"/><stop offset="0.8830" stop-color="#ff9225"/><stop offset="0.8863" stop-color="#ff9b36"/><stop offset="0.8896" stop-color="#ffa040"/><stop offset="0.9044" stop-color="#ffa041"/><stop offset="0.9077" stop-color="#ffa348"/><stop offset="0.9094" stop-color="#ffab56"/><stop offset="0.9126" stop-color="#ffc78f"/><stop offset="0.9143" stop-color="#ffd2a4"/><stop offset="0.9159" stop-color="#ffd6ae"/><stop offset="0.9209" stop-color="#ffdcba"/><stop offset="0.9225" stop-color="#ffe4c9"/><stop offset="0.9258" stop-color="#fff8f0"/><stop offset="0.9274" stop-color="#fffdfa"/><stop offset="0.9291" stop-color="#fffffe"/><stop offset="0.9373" stop-color="#fffefe"/><stop offset="0.9455" stop-color="#fff8f2"/><stop offset="0.9554" stop-color="#fff8f1"/><stop offset="0.9607" stop-color="#fff9f3"/><stop offset="0.9686" stop-color="#fffffe"/><stop offset="0.9998" stop-color="#ffffff"/></linearGradient>
<linearGradient id="b13" gradientUnits="userSpaceOnUse" x1="0" y1="318.80" x2="0" y2="562.05"><stop offset="0.0000" stop-color="#ffb061"/><stop offset="0.3404" stop-color="#ffa954"/><stop offset="0.4933" stop-color="#ffbf80"/><stop offset="0.5599" stop-color="#ffd0a1"/><stop offset="0.6397" stop-color="#ffdcb8"/><stop offset="0.6874" stop-color="#ffdcb9"/><stop offset="0.6956" stop-color="#ffd9b4"/><stop offset="0.7087" stop-color="#ffd1a2"/><stop offset="0.7531" stop-color="#ffd0a1"/><stop offset="0.7564" stop-color="#ffd2a6"/><stop offset="0.7614" stop-color="#ffe0c2"/><stop offset="0.7646" stop-color="#ffe4c9"/><stop offset="0.7926" stop-color="#ffe9d3"/><stop offset="0.7942" stop-color="#ffecda"/><stop offset="0.7984" stop-color="#fffbf6"/><stop offset="0.8008" stop-color="#fffefe"/><stop offset="0.8715" stop-color="#ffffff"/><stop offset="0.8748" stop-color="#fffefd"/><stop offset="0.8765" stop-color="#fffaf5"/><stop offset="0.8785" stop-color="#ffe9d2"/><stop offset="0.8814" stop-color="#ffc58b"/><stop offset="0.8830" stop-color="#ffba75"/><stop offset="0.8847" stop-color="#ffb66d"/><stop offset="0.8913" stop-color="#ffb061"/><stop offset="0.8929" stop-color="#ffac59"/><stop offset="0.8970" stop-color="#ff9d3a"/><stop offset="0.8995" stop-color="#ff9932"/><stop offset="0.9126" stop-color="#ff9831"/><stop offset="0.9159" stop-color="#ff9934"/><stop offset="0.9176" stop-color="#ff9f3f"/><stop offset="0.9192" stop-color="#ffac59"/><stop offset="0.9217" stop-color="#ffcc99"/><stop offset="0.9225" stop-color="#ffd4a8"/><stop offset="0.9242" stop-color="#ffddba"/><stop offset="0.9258" stop-color="#ffe0c0"/><stop offset="0.9324" stop-color="#ffe2c5"/><stop offset="0.9340" stop-color="#ffe6cd"/><stop offset="0.9381" stop-color="#fff9f3"/><stop offset="0.9406" stop-color="#fffefd"/><stop offset="0.9998" stop-color="#ffffff"/></linearGradient>
<linearGradient id="b14" gradientUnits="userSpaceOnUse" x1="0" y1="318.80" x2="0" y2="562.05"><stop offset="0.0000" stop-color="#ffc891"/><stop offset="0.3338" stop-color="#ffc892"/><stop offset="0.4950" stop-color="#ffd4a9"/><stop offset="0.5624" stop-color="#ffe0c1"/><stop offset="0.6857" stop-color="#ffe6cc"/><stop offset="0.6939" stop-color="#ffe4ca"/><stop offset="0.7087" stop-color="#ffdcba"/><stop offset="0.7614" stop-color="#ffdcb9"/><stop offset="0.7655" stop-color="#ffdebd"/><stop offset="0.7762" stop-color="#fff3e7"/><stop offset="0.7877" stop-color="#fffffe"/><stop offset="0.8863" stop-color="#ffffff"/><stop offset="0.8896" stop-color="#fffefe"/><stop offset="0.8913" stop-color="#fffbf7"/><stop offset="0.8929" stop-color="#fff3e7"/><stop offset="0.8970" stop-color="#ffcc99"/><stop offset="0.8995" stop-color="#ffc285"/><stop offset="0.9028" stop-color="#ffc081"/><stop offset="0.9242" stop-color="#ffc081"/><stop offset="0.9274" stop-color="#ffc184"/><stop offset="0.9291" stop-color="#ffc58c"/><stop offset="0.9307" stop-color="#ffcf9e"/><stop offset="0.9340" stop-color="#ffe8d1"/><stop offset="0.9357" stop-color="#ffefe0"/><stop offset="0.9390" stop-color="#fff6ed"/><stop offset="0.9455" stop-color="#fffdfc"/><stop offset="0.9998" stop-color="#ffffff"/></linearGradient>
<linearGradient id="b15" gradientUnits="userSpaceOnUse" x1="0" y1="318.80" x2="0" y2="562.05"><stop offset="0.0000" stop-color="#ffdcb9"/><stop offset="0.4095" stop-color="#ffe0c1"/><stop offset="0.5599" stop-color="#ffead5"/><stop offset="0.7054" stop-color="#ffeedc"/><stop offset="0.7161" stop-color="#ffedda"/><stop offset="0.7268" stop-color="#ffe8d1"/><stop offset="0.7811" stop-color="#ffe8d1"/><stop offset="0.7860" stop-color="#ffead5"/><stop offset="0.7942" stop-color="#fffdfb"/><stop offset="0.8008" stop-color="#ffffff"/><stop offset="0.9011" stop-color="#ffffff"/><stop offset="0.9044" stop-color="#fffbf8"/><stop offset="0.9094" stop-color="#ffe6cd"/><stop offset="0.9126" stop-color="#ffe0c2"/><stop offset="0.9373" stop-color="#ffe0c1"/><stop offset="0.9406" stop-color="#ffe2c5"/><stop offset="0.9422" stop-color="#ffe6cd"/><stop offset="0.9464" stop-color="#fff9f3"/><stop offset="0.9488" stop-color="#fffefd"/><stop offset="0.9998" stop-color="#ffffff"/></linearGradient>
<linearGradient id="b16" gradientUnits="userSpaceOnUse" x1="0" y1="318.80" x2="0" y2="562.05"><stop offset="0.0000" stop-color="#ffe8d1"/><stop offset="0.4045" stop-color="#ffecd9"/><stop offset="0.5599" stop-color="#fff4e9"/><stop offset="0.7104" stop-color="#fff6ed"/><stop offset="0.7244" stop-color="#fff5ec"/><stop offset="0.7367" stop-color="#fff0e1"/><stop offset="0.7844" stop-color="#fff2e6"/><stop offset="0.7942" stop-color="#fffefc"/><stop offset="0.7992" stop-color="#ffffff"/><stop offset="0.9143" stop-color="#ffffff"/><stop offset="0.9176" stop-color="#fffcf9"/><stop offset="0.9217" stop-color="#fff3e7"/><stop offset="0.9242" stop-color="#fff0e2"/><stop offset="0.9455" stop-color="#fff0e1"/><stop offset="0.9505" stop-color="#fff3e7"/><stop offset="0.9546" stop-color="#fffcf9"/><stop offset="0.9570" stop-color="#fffffe"/><stop offset="0.9998" stop-color="#ffffff"/></linearGradient>
<linearGradient id="b17" gradientUnits="userSpaceOnUse" x1="0" y1="318.80" x2="0" y2="562.05"><stop offset="0.0000" stop-color="#fff4e9"/><stop offset="0.5081" stop-color="#fff8f1"/><stop offset="0.7827" stop-color="#fffcf9"/><stop offset="0.7975" stop-color="#ffffff"/><stop offset="0.9998" stop-color="#ffffff"/></linearGradient>
<linearGradient id="b18" gradientUnits="userSpaceOnUse" x1="0" y1="318.80" x2="0" y2="562.05"><stop offset="0.0000" stop-color="#fffaf5"/><stop offset="0.5410" stop-color="#ffffff"/><stop offset="0.9998" stop-color="#ffffff"/></linearGradient>
<linearGradient id="b19" gradientUnits="userSpaceOnUse" x1="0" y1="318.80" x2="0" y2="562.05"><stop offset="0.0000" stop-color="#ffffff"/><stop offset="0.7975" stop-color="#ffffff"/><stop offset="0.8008" stop-color="#fffefd"/><stop offset="0.8066" stop-color="#fff3e7"/><stop offset="0.8107" stop-color="#fff0e1"/><stop offset="0.8156" stop-color="#fff2e5"/><stop offset="0.8189" stop-color="#fffaf6"/><stop offset="0.8222" stop-color="#fffffe"/><stop offset="0.8321" stop-color="#ffffff"/><stop offset="0.8354" stop-color="#fffdfc"/><stop offset="0.8374" stop-color="#fff8f1"/><stop offset="0.8403" stop-color="#ffecda"/><stop offset="0.8419" stop-color="#ffe9d3"/><stop offset="0.8469" stop-color="#ffe8d1"/><stop offset="0.8534" stop-color="#ffe9d3"/><stop offset="0.8551" stop-color="#ffecda"/><stop offset="0.8580" stop-color="#fff8f1"/><stop offset="0.8600" stop-color="#fffdfc"/><stop offset="0.8633" stop-color="#ffffff"/><stop offset="0.8732" stop-color="#fffffe"/><stop offset="0.8765" stop-color="#fffaf6"/><stop offset="0.8798" stop-color="#fff2e5"/><stop offset="0.8830" stop-color="#fff0e2"/><stop offset="0.8863" stop-color="#fff4e9"/><stop offset="0.8896" stop-color="#fffcf9"/><stop offset="0.8929" stop-color="#ffffff"/><stop offset="0.9998" stop-color="#ffffff"/></linearGradient>
</defs>
<g clip-path="url(#ct)">
<rect x="133.70" y="49.10" width="12.50" height="241.90" fill="url(#t0)"/>
<rect x="145.20" y="49.10" width="22.80" height="241.90" fill="url(#t1)"/>
<rect x="167.00" y="49.10" width="22.80" height="241.90" fill="url(#t2)"/>
<rect x="188.80" y="49.10" width="22.80" height="241.90" fill="url(#t3)"/>
<rect x="210.60" y="49.10" width="22.80" height="241.90" fill="url(#t4)"/>
<rect x="232.40" y="49.10" width="22.80" height="241.90" fill="url(#t5)"/>
<rect x="254.20" y="49.10" width="22.80" height="241.90" fill="url(#t6)"/>
<rect x="276.00" y="49.10" width="22.80" height="241.90" fill="url(#t7)"/>
<rect x="297.80" y="49.10" width="22.80" height="241.90" fill="url(#t8)"/>
<rect x="319.60" y="49.10" width="22.80" height="241.90" fill="url(#t9)"/>
<rect x="341.40" y="49.10" width="22.80" height="241.90" fill="url(#t10)"/>
<rect x="363.20" y="49.10" width="22.80" height="241.90" fill="url(#t11)"/>
<rect x="385.00" y="49.10" width="22.80" height="241.90" fill="url(#t12)"/>
<rect x="406.80" y="49.10" width="22.80" height="241.90" fill="url(#t13)"/>
<rect x="428.60" y="49.10" width="22.80" height="241.90" fill="url(#t14)"/>
<rect x="450.40" y="49.10" width="22.80" height="241.90" fill="url(#t15)"/>
<rect x="472.20" y="49.10" width="22.80" height="241.90" fill="url(#t16)"/>
<rect x="494.00" y="49.10" width="22.80" height="241.90" fill="url(#t17)"/>
<rect x="515.80" y="49.10" width="22.80" height="241.90" fill="url(#t18)"/>
<rect x="537.60" y="49.10" width="19.80" height="241.90" fill="url(#t19)"/>
</g>
<g clip-path="url(#cb)">
<rect x="132.55" y="318.80" width="12.56" height="243.25" fill="url(#b0)"/>
<rect x="144.11" y="318.80" width="22.91" height="243.25" fill="url(#b1)"/>
<rect x="166.02" y="318.80" width="22.91" height="243.25" fill="url(#b2)"/>
<rect x="187.93" y="318.80" width="22.91" height="243.25" fill="url(#b3)"/>
<rect x="209.84" y="318.80" width="22.91" height="243.25" fill="url(#b4)"/>
<rect x="231.75" y="318.80" width="22.91" height="243.25" fill="url(#b5)"/>
<rect x="253.66" y="318.80" width="22.91" height="243.25" fill="url(#b6)"/>
<rect x="275.57" y="318.80" width="22.91" height="243.25" fill="url(#b7)"/>
<rect x="297.48" y="318.80" width="22.91" height="243.25" fill="url(#b8)"/>
<rect x="319.39" y="318.80" width="22.91" height="243.25" fill="url(#b9)"/>
<rect x="341.30" y="318.80" width="22.91" height="243.25" fill="url(#b10)"/>
<rect x="363.21" y="318.80" width="22.91" height="243.25" fill="url(#b11)"/>
<rect x="385.12" y="318.80" width="22.91" height="243.25" fill="url(#b12)"/>
<rect x="407.03" y="318.80" width="22.91" height="243.25" fill="url(#b13)"/>
<rect x="428.94" y="318.80" width="22.91" height="243.25" fill="url(#b14)"/>
<rect x="450.85" y="318.80" width="22.91" height="243.25" fill="url(#b15)"/>
<rect x="472.76" y="318.80" width="22.91" height="243.25" fill="url(#b16)"/>
<rect x="494.67" y="318.80" width="22.91" height="243.25" fill="url(#b17)"/>
<rect x="516.58" y="318.80" width="22.91" height="243.25" fill="url(#b18)"/>
<rect x="538.49" y="318.80" width="20.31" height="243.25" fill="url(#b19)"/>
</g>
<rect x="131.8" y="49.7" width="427.7" height="7.0" fill="#000"/>
<polyline points="133.0,107.7 230.0,110.2 330.0,113.6 430.0,116.8 500.0,119.3 557.4,121.2" fill="none" stroke="#6495ed" stroke-width="1.4"/>
<polyline points="133.0,209.9 345.0,209.9 353.0,210.3 365.0,211.8 385.0,214.8 410.0,218.5 430.0,221.3 460.0,224.8 496.7,228.0 525.0,229.6 557.4,230.4" fill="none" stroke="#6495ed" stroke-width="1.4"/>
<line x1="133" x2="557.4" y1="263.9" y2="263.9" stroke="#6495ed" stroke-width="1.4"/>
<line x1="133" x2="557.4" y1="265.8" y2="265.8" stroke="#008000" stroke-width="1.5" stroke-dasharray="11.2 4.6" stroke-dashoffset="2.9"/>
<g clip-path="url(#ct)" fill="none" stroke="#ffd700" stroke-width="1.9">
<circle cx="133.7" cy="279.2" r="4.8"/>
<circle cx="155.9" cy="279.2" r="4.8"/>
<circle cx="178.2" cy="279.2" r="4.8"/>
<circle cx="200.4" cy="279.2" r="4.8"/>
<circle cx="222.7" cy="279.2" r="4.8"/>
<circle cx="244.9" cy="279.2" r="4.8"/>
<circle cx="267.2" cy="279.2" r="4.8"/>
<circle cx="289.4" cy="279.2" r="4.8"/>
<circle cx="311.7" cy="279.2" r="4.8"/>
<circle cx="333.9" cy="279.2" r="4.8"/>
<circle cx="356.2" cy="279.2" r="4.8"/>
<circle cx="378.4" cy="279.2" r="4.8"/>
<circle cx="400.7" cy="279.2" r="4.8"/>
<circle cx="422.9" cy="279.2" r="4.8"/>
<circle cx="445.2" cy="279.2" r="4.8"/>
<circle cx="467.4" cy="279.2" r="4.8"/>
<circle cx="489.7" cy="279.2" r="4.8"/>
<circle cx="511.9" cy="279.2" r="4.8"/>
<circle cx="534.2" cy="279.2" r="4.8"/>
<circle cx="556.5" cy="279.2" r="4.8"/>
</g>
<polyline points="132.6,480.7 300.0,480.7 310.0,481.0 320.0,481.8 346.8,484.9 387.7,490.7 430.0,495.7 460.0,498.0 496.6,500.0 520.0,501.0 544.8,501.7" fill="none" stroke="#6495ed" stroke-width="1.4"/>
<line x1="132.55" x2="544.8" y1="534.2" y2="534.2" stroke="#6495ed" stroke-width="1.4"/>
<polyline points="129.6,499.4 136.8,499.4 141.1,499.4 145.3,499.5 149.6,499.6 153.9,499.7 158.1,499.8 162.4,500.0 166.7,500.2 170.9,500.4 175.2,500.6 179.4,500.9 183.7,501.1 188.0,501.4 192.2,501.8 196.5,502.1 200.8,502.5 205.0,502.9 209.3,503.3 213.5,503.7 217.8,504.2 222.1,504.6 226.3,505.1 230.6,505.6 234.8,506.1 239.1,506.7 243.4,507.3 247.6,507.8 251.9,508.4 256.2,509.0 260.4,509.7 264.7,510.3 268.9,511.0 273.2,511.6 277.5,512.3 281.7,513.0 286.0,513.7 290.3,514.4 294.5,515.1 298.8,515.9 303.1,516.6 307.3,517.4 311.6,518.1 315.8,518.9 320.1,519.6 324.4,520.4 328.6,521.2 332.9,522.0 337.1,522.7 341.4,523.5 345.7,524.3 349.9,525.1 354.2,525.9 358.5,526.6 362.7,527.4 367.0,528.2 371.2,529.0 375.5,529.7 379.8,530.5 384.0,531.2 388.3,532.0 392.6,532.7 396.8,533.5 401.1,534.2 405.3,534.9 409.6,535.6 413.9,536.3 418.1,537.0 422.4,537.6 426.7,538.3 430.9,538.9 435.2,539.6 439.4,540.2 443.7,540.8 448.0,541.3 452.2,541.9 456.5,542.5 460.8,543.0 465.0,543.5 469.3,544.0 473.6,544.4 477.8,544.9 482.1,545.3 486.3,545.7 490.6,546.1 494.9,546.5 499.1,546.8 503.4,547.2 507.6,547.5 511.9,547.7 516.2,548.0 520.4,548.2 524.7,548.4 529.0,548.6 533.2,548.8 537.5,548.9 541.8,549.0 546.0,549.1 550.3,549.2 554.5,549.2 560.3,549.2" fill="none" stroke="#000" stroke-width="3"/>
<polyline points="132.6,501.4 136.7,501.4 140.8,501.4 144.9,501.5 149.0,501.6 153.2,501.7 157.3,501.8 161.4,501.9 165.5,502.0 169.7,502.2 173.8,502.4 177.9,502.6 182.0,502.8 186.1,503.1 190.3,503.4 194.4,503.6 198.5,503.9 202.6,504.3 206.8,504.6 210.9,504.9 215.0,505.3 219.1,505.7 223.2,506.1 227.4,506.5 231.5,507.0 235.6,507.4 239.7,507.9 243.9,508.4 248.0,508.9 252.1,509.4 256.2,509.9 260.3,510.4 264.5,511.0 268.6,511.5 272.7,512.1 276.8,512.7 281.0,513.2 285.1,513.8 289.2,514.4 293.3,515.1 297.4,515.7 301.6,516.3 305.7,516.9 309.8,517.6 313.9,518.2 318.1,518.9 322.2,519.5 326.3,520.2 330.4,520.8 334.6,521.5 338.7,522.2 342.8,522.8 346.9,523.5 351.0,524.2 355.2,524.8 359.3,525.5 363.4,526.2 367.5,526.8 371.7,527.5 375.8,528.1 379.9,528.8 384.0,529.4 388.1,530.0 392.3,530.7 396.4,531.3 400.5,531.9 404.6,532.5 408.8,533.1 412.9,533.7 417.0,534.3 421.1,534.9 425.2,535.4 429.4,536.0 433.5,536.5 437.6,537.0 441.7,537.5 445.9,538.0 450.0,538.5 454.1,539.0 458.2,539.5 462.3,539.9 466.5,540.3 470.6,540.7 474.7,541.1 478.8,541.5 483.0,541.9 487.1,542.2 491.2,542.5 495.3,542.8 499.5,543.1 503.6,543.4 507.7,543.7 511.8,543.9 515.9,544.1 520.1,544.3 524.2,544.5 528.3,544.6 532.4,544.8 536.6,544.9 540.7,545.0 544.8,545.1" fill="none" stroke="#6495ed" stroke-width="1.4"/>
<rect x="133.7" y="49.1" width="423.7" height="241.9" fill="none" stroke="#000" stroke-width="1.6"/>
<rect x="132.6" y="318.8" width="426.2" height="243.2" fill="none" stroke="#000" stroke-width="1.6"/>
<g stroke="#000" stroke-width="1.6"><line x1="126.7" x2="133.7" y1="116.3" y2="116.3"/><line x1="126.7" x2="133.7" y1="250.9" y2="250.9"/><line x1="133.7" x2="133.7" y1="291.0" y2="298.3"/><line x1="345.5" x2="345.5" y1="291.0" y2="298.3"/><line x1="557.4" x2="557.4" y1="291.0" y2="298.3"/><line x1="125.6" x2="132.6" y1="386.0" y2="386.0"/><line x1="125.6" x2="132.6" y1="521.5" y2="521.5"/><line x1="132.6" x2="132.6" y1="562.0" y2="569.3"/><line x1="345.7" x2="345.7" y1="562.0" y2="569.3"/><line x1="558.8" x2="558.8" y1="562.0" y2="569.3"/></g>
<rect x="589.7" y="83.9" width="13.9" height="435.3" fill="url(#cbar)" stroke="#000" stroke-width="1"/>
<g stroke="#000" stroke-width="1.2"><line x1="603.6" x2="607.9" y1="83.9" y2="83.9"/><line x1="603.6" x2="607.9" y1="156.5" y2="156.5"/><line x1="603.6" x2="607.9" y1="229.0" y2="229.0"/><line x1="603.6" x2="607.9" y1="301.6" y2="301.6"/><line x1="603.6" x2="607.9" y1="374.2" y2="374.2"/><line x1="603.6" x2="607.9" y1="446.8" y2="446.8"/><line x1="603.6" x2="607.9" y1="519.3" y2="519.3"/></g>
<rect x="335" y="76.1" width="211.8" height="50" rx="9" ry="9" fill="#fff" fill-opacity="0.8"/>
<rect x="336.2" y="338.4" width="211.8" height="50" rx="9" ry="9" fill="#fff" fill-opacity="0.8"/>
<g fill="#000"><text transform="translate(100.83,130.61) scale(1.001,1)" font-size="39.26" style="font-family:'Liberation Serif',serif">0</text>
<text transform="translate(53.47,268.50) scale(1.317,1)" font-size="40.00" style="font-family:'Liberation Serif',serif">−</text>
<text transform="translate(83.59,265.20) scale(0.917,1)" font-size="40.00" style="font-family:'Liberation Serif',serif">10</text>
<text transform="translate(99.33,400.61) scale(1.001,1)" font-size="39.26" style="font-family:'Liberation Serif',serif">0</text>
<text transform="translate(51.97,538.50) scale(1.317,1)" font-size="40.00" style="font-family:'Liberation Serif',serif">−</text>
<text transform="translate(82.09,535.20) scale(0.917,1)" font-size="40.00" style="font-family:'Liberation Serif',serif">10</text>
<text transform="translate(611.27,97.42) scale(0.917,1)" font-size="38.82" style="font-family:'Liberation Serif',serif">0.30</text>
<text transform="translate(611.29,169.99) scale(0.899,1)" font-size="38.82" style="font-family:'Liberation Serif',serif">0.25</text>
<text transform="translate(611.27,242.56) scale(0.917,1)" font-size="38.82" style="font-family:'Liberation Serif',serif">0.20</text>
<text transform="translate(611.29,315.13) scale(0.899,1)" font-size="38.82" style="font-family:'Liberation Serif',serif">0.15</text>
<text transform="translate(611.27,387.70) scale(0.917,1)" font-size="38.82" style="font-family:'Liberation Serif',serif">0.10</text>
<text transform="translate(611.26,460.27) scale(0.918,1)" font-size="38.82" style="font-family:'Liberation Serif',serif">0.05</text>
<text transform="translate(611.27,532.84) scale(0.917,1)" font-size="38.82" style="font-family:'Liberation Serif',serif">0.00</text>
<text transform="translate(84.58,603.93) scale(0.819,1)" font-size="43.64" style="font-family:'Liberation Serif',serif">(</text>
<text transform="translate(96.54,604.30) scale(0.963,1)" font-size="40.30" style="font-family:'Liberation Serif',serif">0</text>
<text transform="translate(116.28,604.48) scale(0.932,1)" font-size="40.78" style="font-family:'Liberation Serif',serif">,</text>
<text transform="translate(133.36,604.50) scale(1.017,1)" font-size="40.72" style="font-family:'Liberation Serif',serif;font-style:italic">k</text>
<text transform="translate(155.14,608.91) scale(0.948,1)" font-size="27.41" style="font-family:'Liberation Serif',serif;font-style:italic">y</text>
<text transform="translate(168.73,603.93) scale(0.828,1)" font-size="43.64" style="font-family:'Liberation Serif',serif">)</text>
<text transform="translate(276.15,603.75) scale(0.839,1)" font-size="43.53" style="font-family:'Liberation Serif',serif">(</text>
<text transform="translate(289.50,603.44) scale(1.112,1)" font-size="35.96" style="font-family:'Liberation Serif',serif;font-style:italic">π</text>
<text transform="translate(313.80,612.41) scale(1.002,1)" font-size="58.96" style="font-family:'Liberation Serif',serif">/</text>
<text transform="translate(330.34,604.30) scale(0.947,1)" font-size="41.21" style="font-family:'Liberation Serif',serif">2</text>
<text transform="translate(350.10,604.48) scale(0.916,1)" font-size="40.78" style="font-family:'Liberation Serif',serif">,</text>
<text transform="translate(367.27,604.50) scale(1.005,1)" font-size="40.72" style="font-family:'Liberation Serif',serif;font-style:italic">k</text>
<text transform="translate(389.23,608.61) scale(0.941,1)" font-size="27.41" style="font-family:'Liberation Serif',serif;font-style:italic">y</text>
<text transform="translate(402.81,603.75) scale(0.839,1)" font-size="43.53" style="font-family:'Liberation Serif',serif">)</text>
<text transform="translate(508.15,603.90) scale(0.781,1)" font-size="43.75" style="font-family:'Liberation Serif',serif">(</text>
<text transform="translate(521.19,603.44) scale(1.150,1)" font-size="35.96" style="font-family:'Liberation Serif',serif;font-style:italic">π</text>
<text transform="translate(545.60,604.48) scale(0.916,1)" font-size="40.78" style="font-family:'Liberation Serif',serif">,</text>
<text transform="translate(562.13,604.50) scale(1.043,1)" font-size="40.58" style="font-family:'Liberation Serif',serif;font-style:italic">k</text>
<text transform="translate(584.36,608.81) scale(0.898,1)" font-size="27.85" style="font-family:'Liberation Serif',serif;font-style:italic">y</text>
<text transform="translate(597.90,603.90) scale(0.772,1)" font-size="43.75" style="font-family:'Liberation Serif',serif">)</text>
<text transform="translate(238.72,651.70) scale(0.991,1)" font-size="39.50" style="font-family:'Liberation Serif',serif">momentum</text>
<text transform="translate(428.69,651.80) scale(1.117,1)" font-size="39.71" style="font-family:'Liberation Serif',serif;font-weight:bold">k</text>
<text transform="translate(0.0,0.0) rotate(-90) translate(-210.13,32.01) scale(0.901,1)" font-size="38.75" style="font-family:'Liberation Serif',serif;font-style:italic">ω</text>
<text transform="translate(0.0,0.0) rotate(-90) translate(-181.50,40.71) scale(0.893,1)" font-size="58.51" style="font-family:'Liberation Serif',serif">/</text>
<text stroke="#000" stroke-width="0.35" transform="translate(0.0,0.0) rotate(-90) translate(-162.47,32.18) scale(1.063,1)" font-size="42.26" style="font-family:'Liberation Serif',serif;font-style:italic">J</text>
<text transform="translate(0.0,0.0) rotate(-90) translate(-142.50,37.90) scale(1.187,1)" font-size="26.96" style="font-family:'Liberation Serif',serif;font-style:italic">z</text>
<text transform="translate(-2.1,270.0) rotate(-90) translate(-210.13,32.01) scale(0.901,1)" font-size="38.75" style="font-family:'Liberation Serif',serif;font-style:italic">ω</text>
<text transform="translate(-2.1,270.0) rotate(-90) translate(-181.50,40.71) scale(0.893,1)" font-size="58.51" style="font-family:'Liberation Serif',serif">/</text>
<text stroke="#000" stroke-width="0.35" transform="translate(-2.1,270.0) rotate(-90) translate(-162.47,32.18) scale(1.063,1)" font-size="42.26" style="font-family:'Liberation Serif',serif;font-style:italic">J</text>
<text transform="translate(-2.1,270.0) rotate(-90) translate(-142.50,37.90) scale(1.187,1)" font-size="26.96" style="font-family:'Liberation Serif',serif;font-style:italic">z</text>
<text transform="translate(549.14,34.90) scale(1.019,1)" font-size="31.06" style="font-family:'Liberation Serif',serif;font-style:italic">A</text>
<text transform="translate(571.65,17.68) scale(1.100,1)" font-size="24.57" style="font-family:'Liberation Serif',serif">(0)</text>
<text transform="translate(570.71,41.29) scale(1.387,1)" font-size="21.39" style="font-family:'Liberation Serif',serif">rot</text>
<text transform="translate(607.33,34.62) scale(0.956,1)" font-size="36.14" style="font-family:'Liberation Serif',serif">(</text>
<text transform="translate(618.50,34.90) scale(1.181,1)" font-size="30.36" style="font-family:'Liberation Serif',serif;font-weight:bold">k</text>
<text transform="translate(640.20,34.48) scale(0.723,1)" font-size="36.89" style="font-family:'Liberation Serif',serif">,</text>
<text transform="translate(653.21,35.01) scale(1.146,1)" font-size="29.37" style="font-family:'Liberation Serif',serif;font-style:italic">ω</text>
<text transform="translate(677.59,34.62) scale(0.946,1)" font-size="36.14" style="font-family:'Liberation Serif',serif">)</text>
<text transform="translate(344.33,108.70) scale(1.146,1)" font-size="31.22" style="font-family:'Liberation Serif',serif;font-style:italic">k</text>
<text transform="translate(360.73,115.67) scale(0.827,1)" font-size="23.85" style="font-family:'Liberation Serif',serif;font-style:italic">y</text>
<text transform="translate(377.85,112.00) scale(1.222,1)" font-size="35.20" style="font-family:'Liberation Serif',serif">=</text>
<text transform="translate(409.30,108.70) scale(1.059,1)" font-size="30.22" style="font-family:'Liberation Serif',serif">0</text>
<text transform="translate(427.24,108.85) scale(1.064,1)" font-size="24.85" style="font-family:'Liberation Serif',serif;font-style:italic">,</text>
<text transform="translate(442.80,108.58) scale(1.041,1)" font-size="31.91" style="font-family:'Liberation Serif',serif;font-style:italic">d</text>
<text transform="translate(460.00,108.52) scale(1.012,1)" font-size="28.49" style="font-family:'Liberation Sans',sans-serif">-wave</text>
<text transform="translate(346.91,370.80) scale(1.161,1)" font-size="31.22" style="font-family:'Liberation Serif',serif;font-style:italic">k</text>
<text transform="translate(363.36,377.77) scale(0.842,1)" font-size="23.85" style="font-family:'Liberation Serif',serif;font-style:italic">y</text>
<text transform="translate(380.41,374.10) scale(1.246,1)" font-size="35.20" style="font-family:'Liberation Serif',serif">=</text>
<text transform="translate(411.94,370.73) scale(1.174,1)" font-size="27.02" style="font-family:'Liberation Serif',serif;font-style:italic">π</text>
<text transform="translate(430.38,370.95) scale(1.012,1)" font-size="24.85" style="font-family:'Liberation Serif',serif;font-style:italic">,</text>
<text transform="translate(446.24,370.73) scale(1.036,1)" font-size="27.50" style="font-family:'Liberation Serif',serif;font-style:italic">s</text>
<text transform="translate(457.47,370.62) scale(1.041,1)" font-size="28.49" style="font-family:'Liberation Sans',sans-serif">-wave</text></g>
</svg>
</body></html>
